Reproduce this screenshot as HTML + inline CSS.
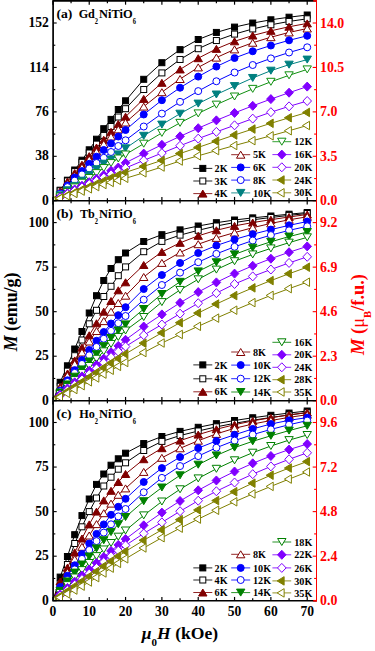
<!DOCTYPE html>
<html><head><meta charset="utf-8"><style>
html,body{margin:0;padding:0;background:#fff;}
body{width:375px;height:651px;overflow:hidden;font-family:"Liberation Serif",serif;}
svg{display:block;}
</style></head><body>
<svg width="375" height="651" viewBox="0 0 375 651">
<defs><clipPath id="ca"><rect x="53" y="1" width="263" height="200"/></clipPath><clipPath id="cb"><rect x="53" y="201" width="263" height="200"/></clipPath><clipPath id="cc"><rect x="53" y="401" width="263" height="200"/></clipPath></defs>
<g clip-path="url(#ca)">
<polyline points="52.90,201.00 60.17,190.20 67.43,180.20 74.70,170.00 81.96,160.20 89.23,149.80 96.50,139.20 103.76,128.70 111.03,119.40 118.29,109.50 125.56,100.80 143.72,79.30 161.89,62.70 180.06,49.64 198.22,39.50 216.39,32.43 234.55,27.10 252.72,23.05 270.88,19.80 289.05,17.20 307.21,15.00" fill="none" stroke="#000000" stroke-width="1"/>
<rect x="49.90" y="198.00" width="6.0" height="6.0" fill="#000000" stroke="#000000" stroke-width="1.0"/>
<rect x="57.17" y="187.20" width="6.0" height="6.0" fill="#000000" stroke="#000000" stroke-width="1.0"/>
<rect x="64.43" y="177.20" width="6.0" height="6.0" fill="#000000" stroke="#000000" stroke-width="1.0"/>
<rect x="71.70" y="167.00" width="6.0" height="6.0" fill="#000000" stroke="#000000" stroke-width="1.0"/>
<rect x="78.96" y="157.20" width="6.0" height="6.0" fill="#000000" stroke="#000000" stroke-width="1.0"/>
<rect x="86.23" y="146.80" width="6.0" height="6.0" fill="#000000" stroke="#000000" stroke-width="1.0"/>
<rect x="93.50" y="136.20" width="6.0" height="6.0" fill="#000000" stroke="#000000" stroke-width="1.0"/>
<rect x="100.76" y="125.70" width="6.0" height="6.0" fill="#000000" stroke="#000000" stroke-width="1.0"/>
<rect x="108.03" y="116.40" width="6.0" height="6.0" fill="#000000" stroke="#000000" stroke-width="1.0"/>
<rect x="115.29" y="106.50" width="6.0" height="6.0" fill="#000000" stroke="#000000" stroke-width="1.0"/>
<rect x="122.56" y="97.80" width="6.0" height="6.0" fill="#000000" stroke="#000000" stroke-width="1.0"/>
<rect x="140.72" y="76.30" width="6.0" height="6.0" fill="#000000" stroke="#000000" stroke-width="1.0"/>
<rect x="158.89" y="59.70" width="6.0" height="6.0" fill="#000000" stroke="#000000" stroke-width="1.0"/>
<rect x="177.06" y="46.64" width="6.0" height="6.0" fill="#000000" stroke="#000000" stroke-width="1.0"/>
<rect x="195.22" y="36.50" width="6.0" height="6.0" fill="#000000" stroke="#000000" stroke-width="1.0"/>
<rect x="213.39" y="29.43" width="6.0" height="6.0" fill="#000000" stroke="#000000" stroke-width="1.0"/>
<rect x="231.55" y="24.10" width="6.0" height="6.0" fill="#000000" stroke="#000000" stroke-width="1.0"/>
<rect x="249.72" y="20.05" width="6.0" height="6.0" fill="#000000" stroke="#000000" stroke-width="1.0"/>
<rect x="267.88" y="16.80" width="6.0" height="6.0" fill="#000000" stroke="#000000" stroke-width="1.0"/>
<rect x="286.05" y="14.20" width="6.0" height="6.0" fill="#000000" stroke="#000000" stroke-width="1.0"/>
<rect x="304.21" y="12.00" width="6.0" height="6.0" fill="#000000" stroke="#000000" stroke-width="1.0"/>
<polyline points="52.90,201.00 60.17,190.80 67.43,181.00 74.70,171.60 81.96,162.30 89.23,153.00 96.50,144.13 103.76,135.44 111.03,126.50 118.29,117.00 125.56,108.70 143.72,89.52 161.89,72.90 180.06,59.47 198.22,48.70 216.39,40.54 234.55,34.10 252.72,28.94 270.88,24.80 289.05,21.43 307.21,18.80" fill="none" stroke="#000000" stroke-width="1"/>
<rect x="49.90" y="198.00" width="6.0" height="6.0" fill="#ffffff" stroke="#000000" stroke-width="1.0"/>
<rect x="57.17" y="187.80" width="6.0" height="6.0" fill="#ffffff" stroke="#000000" stroke-width="1.0"/>
<rect x="64.43" y="178.00" width="6.0" height="6.0" fill="#ffffff" stroke="#000000" stroke-width="1.0"/>
<rect x="71.70" y="168.60" width="6.0" height="6.0" fill="#ffffff" stroke="#000000" stroke-width="1.0"/>
<rect x="78.96" y="159.30" width="6.0" height="6.0" fill="#ffffff" stroke="#000000" stroke-width="1.0"/>
<rect x="86.23" y="150.00" width="6.0" height="6.0" fill="#ffffff" stroke="#000000" stroke-width="1.0"/>
<rect x="93.50" y="141.13" width="6.0" height="6.0" fill="#ffffff" stroke="#000000" stroke-width="1.0"/>
<rect x="100.76" y="132.44" width="6.0" height="6.0" fill="#ffffff" stroke="#000000" stroke-width="1.0"/>
<rect x="108.03" y="123.50" width="6.0" height="6.0" fill="#ffffff" stroke="#000000" stroke-width="1.0"/>
<rect x="115.29" y="114.00" width="6.0" height="6.0" fill="#ffffff" stroke="#000000" stroke-width="1.0"/>
<rect x="122.56" y="105.70" width="6.0" height="6.0" fill="#ffffff" stroke="#000000" stroke-width="1.0"/>
<rect x="140.72" y="86.52" width="6.0" height="6.0" fill="#ffffff" stroke="#000000" stroke-width="1.0"/>
<rect x="158.89" y="69.90" width="6.0" height="6.0" fill="#ffffff" stroke="#000000" stroke-width="1.0"/>
<rect x="177.06" y="56.47" width="6.0" height="6.0" fill="#ffffff" stroke="#000000" stroke-width="1.0"/>
<rect x="195.22" y="45.70" width="6.0" height="6.0" fill="#ffffff" stroke="#000000" stroke-width="1.0"/>
<rect x="213.39" y="37.54" width="6.0" height="6.0" fill="#ffffff" stroke="#000000" stroke-width="1.0"/>
<rect x="231.55" y="31.10" width="6.0" height="6.0" fill="#ffffff" stroke="#000000" stroke-width="1.0"/>
<rect x="249.72" y="25.94" width="6.0" height="6.0" fill="#ffffff" stroke="#000000" stroke-width="1.0"/>
<rect x="267.88" y="21.80" width="6.0" height="6.0" fill="#ffffff" stroke="#000000" stroke-width="1.0"/>
<rect x="286.05" y="18.43" width="6.0" height="6.0" fill="#ffffff" stroke="#000000" stroke-width="1.0"/>
<rect x="304.21" y="15.80" width="6.0" height="6.0" fill="#ffffff" stroke="#000000" stroke-width="1.0"/>
<polyline points="52.90,201.00 60.17,191.20 67.43,181.60 74.70,173.10 81.96,164.70 89.23,156.10 96.50,147.50 103.76,139.80 111.03,131.80 118.29,124.00 125.56,116.70 143.72,98.88 161.89,82.80 180.06,69.44 198.22,58.20 216.39,48.86 234.55,41.30 252.72,35.52 270.88,30.80 289.05,26.75 307.21,23.40" fill="none" stroke="#800000" stroke-width="1"/>
<polygon points="52.90,197.50 57.10,204.50 48.70,204.50" fill="#800000" stroke="#800000" stroke-width="1.0" stroke-linejoin="miter"/>
<polygon points="60.17,187.70 64.37,194.70 55.97,194.70" fill="#800000" stroke="#800000" stroke-width="1.0" stroke-linejoin="miter"/>
<polygon points="67.43,178.10 71.63,185.10 63.23,185.10" fill="#800000" stroke="#800000" stroke-width="1.0" stroke-linejoin="miter"/>
<polygon points="74.70,169.60 78.90,176.60 70.50,176.60" fill="#800000" stroke="#800000" stroke-width="1.0" stroke-linejoin="miter"/>
<polygon points="81.96,161.20 86.16,168.20 77.76,168.20" fill="#800000" stroke="#800000" stroke-width="1.0" stroke-linejoin="miter"/>
<polygon points="89.23,152.60 93.43,159.60 85.03,159.60" fill="#800000" stroke="#800000" stroke-width="1.0" stroke-linejoin="miter"/>
<polygon points="96.50,144.00 100.70,151.00 92.30,151.00" fill="#800000" stroke="#800000" stroke-width="1.0" stroke-linejoin="miter"/>
<polygon points="103.76,136.30 107.96,143.30 99.56,143.30" fill="#800000" stroke="#800000" stroke-width="1.0" stroke-linejoin="miter"/>
<polygon points="111.03,128.30 115.23,135.30 106.83,135.30" fill="#800000" stroke="#800000" stroke-width="1.0" stroke-linejoin="miter"/>
<polygon points="118.29,120.50 122.49,127.50 114.09,127.50" fill="#800000" stroke="#800000" stroke-width="1.0" stroke-linejoin="miter"/>
<polygon points="125.56,113.20 129.76,120.20 121.36,120.20" fill="#800000" stroke="#800000" stroke-width="1.0" stroke-linejoin="miter"/>
<polygon points="143.72,95.38 147.92,102.38 139.53,102.38" fill="#800000" stroke="#800000" stroke-width="1.0" stroke-linejoin="miter"/>
<polygon points="161.89,79.30 166.09,86.30 157.69,86.30" fill="#800000" stroke="#800000" stroke-width="1.0" stroke-linejoin="miter"/>
<polygon points="180.06,65.94 184.25,72.94 175.86,72.94" fill="#800000" stroke="#800000" stroke-width="1.0" stroke-linejoin="miter"/>
<polygon points="198.22,54.70 202.42,61.70 194.02,61.70" fill="#800000" stroke="#800000" stroke-width="1.0" stroke-linejoin="miter"/>
<polygon points="216.39,45.36 220.59,52.36 212.19,52.36" fill="#800000" stroke="#800000" stroke-width="1.0" stroke-linejoin="miter"/>
<polygon points="234.55,37.80 238.75,44.80 230.35,44.80" fill="#800000" stroke="#800000" stroke-width="1.0" stroke-linejoin="miter"/>
<polygon points="252.72,32.02 256.92,39.02 248.52,39.02" fill="#800000" stroke="#800000" stroke-width="1.0" stroke-linejoin="miter"/>
<polygon points="270.88,27.30 275.08,34.30 266.68,34.30" fill="#800000" stroke="#800000" stroke-width="1.0" stroke-linejoin="miter"/>
<polygon points="289.05,23.25 293.25,30.25 284.85,30.25" fill="#800000" stroke="#800000" stroke-width="1.0" stroke-linejoin="miter"/>
<polygon points="307.21,19.90 311.41,26.90 303.01,26.90" fill="#800000" stroke="#800000" stroke-width="1.0" stroke-linejoin="miter"/>
<polyline points="52.90,201.00 60.17,192.34 67.43,183.85 74.70,175.54 81.96,167.42 89.23,159.50 96.50,151.71 103.76,144.04 111.03,136.57 118.29,129.36 125.56,122.50 143.72,106.59 161.89,92.20 180.06,79.00 198.22,67.40 216.39,57.61 234.55,49.40 252.72,42.75 270.88,37.20 289.05,32.45 307.21,28.50" fill="none" stroke="#800000" stroke-width="1"/>
<polygon points="52.90,197.50 57.10,204.50 48.70,204.50" fill="#ffffff" stroke="#800000" stroke-width="1.0" stroke-linejoin="miter"/>
<polygon points="60.17,188.84 64.37,195.84 55.97,195.84" fill="#ffffff" stroke="#800000" stroke-width="1.0" stroke-linejoin="miter"/>
<polygon points="67.43,180.35 71.63,187.35 63.23,187.35" fill="#ffffff" stroke="#800000" stroke-width="1.0" stroke-linejoin="miter"/>
<polygon points="74.70,172.04 78.90,179.04 70.50,179.04" fill="#ffffff" stroke="#800000" stroke-width="1.0" stroke-linejoin="miter"/>
<polygon points="81.96,163.92 86.16,170.92 77.76,170.92" fill="#ffffff" stroke="#800000" stroke-width="1.0" stroke-linejoin="miter"/>
<polygon points="89.23,156.00 93.43,163.00 85.03,163.00" fill="#ffffff" stroke="#800000" stroke-width="1.0" stroke-linejoin="miter"/>
<polygon points="96.50,148.21 100.70,155.21 92.30,155.21" fill="#ffffff" stroke="#800000" stroke-width="1.0" stroke-linejoin="miter"/>
<polygon points="103.76,140.54 107.96,147.54 99.56,147.54" fill="#ffffff" stroke="#800000" stroke-width="1.0" stroke-linejoin="miter"/>
<polygon points="111.03,133.07 115.23,140.07 106.83,140.07" fill="#ffffff" stroke="#800000" stroke-width="1.0" stroke-linejoin="miter"/>
<polygon points="118.29,125.86 122.49,132.86 114.09,132.86" fill="#ffffff" stroke="#800000" stroke-width="1.0" stroke-linejoin="miter"/>
<polygon points="125.56,119.00 129.76,126.00 121.36,126.00" fill="#ffffff" stroke="#800000" stroke-width="1.0" stroke-linejoin="miter"/>
<polygon points="143.72,103.09 147.92,110.09 139.53,110.09" fill="#ffffff" stroke="#800000" stroke-width="1.0" stroke-linejoin="miter"/>
<polygon points="161.89,88.70 166.09,95.70 157.69,95.70" fill="#ffffff" stroke="#800000" stroke-width="1.0" stroke-linejoin="miter"/>
<polygon points="180.06,75.50 184.25,82.50 175.86,82.50" fill="#ffffff" stroke="#800000" stroke-width="1.0" stroke-linejoin="miter"/>
<polygon points="198.22,63.90 202.42,70.90 194.02,70.90" fill="#ffffff" stroke="#800000" stroke-width="1.0" stroke-linejoin="miter"/>
<polygon points="216.39,54.11 220.59,61.11 212.19,61.11" fill="#ffffff" stroke="#800000" stroke-width="1.0" stroke-linejoin="miter"/>
<polygon points="234.55,45.90 238.75,52.90 230.35,52.90" fill="#ffffff" stroke="#800000" stroke-width="1.0" stroke-linejoin="miter"/>
<polygon points="252.72,39.25 256.92,46.25 248.52,46.25" fill="#ffffff" stroke="#800000" stroke-width="1.0" stroke-linejoin="miter"/>
<polygon points="270.88,33.70 275.08,40.70 266.68,40.70" fill="#ffffff" stroke="#800000" stroke-width="1.0" stroke-linejoin="miter"/>
<polygon points="289.05,28.95 293.25,35.95 284.85,35.95" fill="#ffffff" stroke="#800000" stroke-width="1.0" stroke-linejoin="miter"/>
<polygon points="307.21,25.00 311.41,32.00 303.01,32.00" fill="#ffffff" stroke="#800000" stroke-width="1.0" stroke-linejoin="miter"/>
<polyline points="52.90,201.00 60.17,193.50 67.43,185.50 74.70,177.50 81.96,171.10 89.23,163.80 96.50,156.70 103.76,150.00 111.03,143.40 118.29,136.50 125.56,130.00 143.72,114.47 161.89,100.20 180.06,87.71 198.22,76.60 216.39,66.57 234.55,58.00 252.72,51.25 270.88,45.50 289.05,40.32 307.21,35.80" fill="none" stroke="#0000ff" stroke-width="1"/>
<circle cx="52.90" cy="201.00" r="3.5" fill="#0000ff" stroke="#0000ff" stroke-width="1.0"/>
<circle cx="60.17" cy="193.50" r="3.5" fill="#0000ff" stroke="#0000ff" stroke-width="1.0"/>
<circle cx="67.43" cy="185.50" r="3.5" fill="#0000ff" stroke="#0000ff" stroke-width="1.0"/>
<circle cx="74.70" cy="177.50" r="3.5" fill="#0000ff" stroke="#0000ff" stroke-width="1.0"/>
<circle cx="81.96" cy="171.10" r="3.5" fill="#0000ff" stroke="#0000ff" stroke-width="1.0"/>
<circle cx="89.23" cy="163.80" r="3.5" fill="#0000ff" stroke="#0000ff" stroke-width="1.0"/>
<circle cx="96.50" cy="156.70" r="3.5" fill="#0000ff" stroke="#0000ff" stroke-width="1.0"/>
<circle cx="103.76" cy="150.00" r="3.5" fill="#0000ff" stroke="#0000ff" stroke-width="1.0"/>
<circle cx="111.03" cy="143.40" r="3.5" fill="#0000ff" stroke="#0000ff" stroke-width="1.0"/>
<circle cx="118.29" cy="136.50" r="3.5" fill="#0000ff" stroke="#0000ff" stroke-width="1.0"/>
<circle cx="125.56" cy="130.00" r="3.5" fill="#0000ff" stroke="#0000ff" stroke-width="1.0"/>
<circle cx="143.72" cy="114.47" r="3.5" fill="#0000ff" stroke="#0000ff" stroke-width="1.0"/>
<circle cx="161.89" cy="100.20" r="3.5" fill="#0000ff" stroke="#0000ff" stroke-width="1.0"/>
<circle cx="180.06" cy="87.71" r="3.5" fill="#0000ff" stroke="#0000ff" stroke-width="1.0"/>
<circle cx="198.22" cy="76.60" r="3.5" fill="#0000ff" stroke="#0000ff" stroke-width="1.0"/>
<circle cx="216.39" cy="66.57" r="3.5" fill="#0000ff" stroke="#0000ff" stroke-width="1.0"/>
<circle cx="234.55" cy="58.00" r="3.5" fill="#0000ff" stroke="#0000ff" stroke-width="1.0"/>
<circle cx="252.72" cy="51.25" r="3.5" fill="#0000ff" stroke="#0000ff" stroke-width="1.0"/>
<circle cx="270.88" cy="45.50" r="3.5" fill="#0000ff" stroke="#0000ff" stroke-width="1.0"/>
<circle cx="289.05" cy="40.32" r="3.5" fill="#0000ff" stroke="#0000ff" stroke-width="1.0"/>
<circle cx="307.21" cy="35.80" r="3.5" fill="#0000ff" stroke="#0000ff" stroke-width="1.0"/>
<polyline points="52.90,201.00 60.17,193.86 67.43,187.09 74.70,180.63 81.96,174.45 89.23,168.50 96.50,163.00 103.76,157.80 111.03,152.00 118.29,146.00 125.56,140.30 143.72,126.53 161.89,113.60 180.06,101.84 198.22,91.10 216.39,81.26 234.55,72.50 252.72,65.00 270.88,58.40 289.05,52.50 307.21,47.30" fill="none" stroke="#0000ff" stroke-width="1"/>
<circle cx="52.90" cy="201.00" r="3.5" fill="#ffffff" stroke="#0000ff" stroke-width="1.0"/>
<circle cx="60.17" cy="193.86" r="3.5" fill="#ffffff" stroke="#0000ff" stroke-width="1.0"/>
<circle cx="67.43" cy="187.09" r="3.5" fill="#ffffff" stroke="#0000ff" stroke-width="1.0"/>
<circle cx="74.70" cy="180.63" r="3.5" fill="#ffffff" stroke="#0000ff" stroke-width="1.0"/>
<circle cx="81.96" cy="174.45" r="3.5" fill="#ffffff" stroke="#0000ff" stroke-width="1.0"/>
<circle cx="89.23" cy="168.50" r="3.5" fill="#ffffff" stroke="#0000ff" stroke-width="1.0"/>
<circle cx="96.50" cy="163.00" r="3.5" fill="#ffffff" stroke="#0000ff" stroke-width="1.0"/>
<circle cx="103.76" cy="157.80" r="3.5" fill="#ffffff" stroke="#0000ff" stroke-width="1.0"/>
<circle cx="111.03" cy="152.00" r="3.5" fill="#ffffff" stroke="#0000ff" stroke-width="1.0"/>
<circle cx="118.29" cy="146.00" r="3.5" fill="#ffffff" stroke="#0000ff" stroke-width="1.0"/>
<circle cx="125.56" cy="140.30" r="3.5" fill="#ffffff" stroke="#0000ff" stroke-width="1.0"/>
<circle cx="143.72" cy="126.53" r="3.5" fill="#ffffff" stroke="#0000ff" stroke-width="1.0"/>
<circle cx="161.89" cy="113.60" r="3.5" fill="#ffffff" stroke="#0000ff" stroke-width="1.0"/>
<circle cx="180.06" cy="101.84" r="3.5" fill="#ffffff" stroke="#0000ff" stroke-width="1.0"/>
<circle cx="198.22" cy="91.10" r="3.5" fill="#ffffff" stroke="#0000ff" stroke-width="1.0"/>
<circle cx="216.39" cy="81.26" r="3.5" fill="#ffffff" stroke="#0000ff" stroke-width="1.0"/>
<circle cx="234.55" cy="72.50" r="3.5" fill="#ffffff" stroke="#0000ff" stroke-width="1.0"/>
<circle cx="252.72" cy="65.00" r="3.5" fill="#ffffff" stroke="#0000ff" stroke-width="1.0"/>
<circle cx="270.88" cy="58.40" r="3.5" fill="#ffffff" stroke="#0000ff" stroke-width="1.0"/>
<circle cx="289.05" cy="52.50" r="3.5" fill="#ffffff" stroke="#0000ff" stroke-width="1.0"/>
<circle cx="307.21" cy="47.30" r="3.5" fill="#ffffff" stroke="#0000ff" stroke-width="1.0"/>
<polyline points="52.90,201.00 60.17,195.35 67.43,190.30 74.70,185.90 81.96,180.70 89.23,175.20 96.50,169.24 103.76,163.70 111.03,159.50 118.29,154.40 125.56,148.30 143.72,135.80 161.89,124.60 180.06,113.70 198.22,103.60 216.39,94.51 234.55,86.10 252.72,77.96 270.88,70.70 289.05,64.66 307.21,59.60" fill="none" stroke="#008080" stroke-width="1"/>
<polygon points="52.90,204.50 57.10,197.50 48.70,197.50" fill="#008080" stroke="#008080" stroke-width="1.0" stroke-linejoin="miter"/>
<polygon points="60.17,198.85 64.37,191.85 55.97,191.85" fill="#008080" stroke="#008080" stroke-width="1.0" stroke-linejoin="miter"/>
<polygon points="67.43,193.80 71.63,186.80 63.23,186.80" fill="#008080" stroke="#008080" stroke-width="1.0" stroke-linejoin="miter"/>
<polygon points="74.70,189.40 78.90,182.40 70.50,182.40" fill="#008080" stroke="#008080" stroke-width="1.0" stroke-linejoin="miter"/>
<polygon points="81.96,184.20 86.16,177.20 77.76,177.20" fill="#008080" stroke="#008080" stroke-width="1.0" stroke-linejoin="miter"/>
<polygon points="89.23,178.70 93.43,171.70 85.03,171.70" fill="#008080" stroke="#008080" stroke-width="1.0" stroke-linejoin="miter"/>
<polygon points="96.50,172.74 100.70,165.74 92.30,165.74" fill="#008080" stroke="#008080" stroke-width="1.0" stroke-linejoin="miter"/>
<polygon points="103.76,167.20 107.96,160.20 99.56,160.20" fill="#008080" stroke="#008080" stroke-width="1.0" stroke-linejoin="miter"/>
<polygon points="111.03,163.00 115.23,156.00 106.83,156.00" fill="#008080" stroke="#008080" stroke-width="1.0" stroke-linejoin="miter"/>
<polygon points="118.29,157.90 122.49,150.90 114.09,150.90" fill="#008080" stroke="#008080" stroke-width="1.0" stroke-linejoin="miter"/>
<polygon points="125.56,151.80 129.76,144.80 121.36,144.80" fill="#008080" stroke="#008080" stroke-width="1.0" stroke-linejoin="miter"/>
<polygon points="143.72,139.30 147.92,132.30 139.53,132.30" fill="#008080" stroke="#008080" stroke-width="1.0" stroke-linejoin="miter"/>
<polygon points="161.89,128.10 166.09,121.10 157.69,121.10" fill="#008080" stroke="#008080" stroke-width="1.0" stroke-linejoin="miter"/>
<polygon points="180.06,117.20 184.25,110.20 175.86,110.20" fill="#008080" stroke="#008080" stroke-width="1.0" stroke-linejoin="miter"/>
<polygon points="198.22,107.10 202.42,100.10 194.02,100.10" fill="#008080" stroke="#008080" stroke-width="1.0" stroke-linejoin="miter"/>
<polygon points="216.39,98.01 220.59,91.01 212.19,91.01" fill="#008080" stroke="#008080" stroke-width="1.0" stroke-linejoin="miter"/>
<polygon points="234.55,89.60 238.75,82.60 230.35,82.60" fill="#008080" stroke="#008080" stroke-width="1.0" stroke-linejoin="miter"/>
<polygon points="252.72,81.46 256.92,74.46 248.52,74.46" fill="#008080" stroke="#008080" stroke-width="1.0" stroke-linejoin="miter"/>
<polygon points="270.88,74.20 275.08,67.20 266.68,67.20" fill="#008080" stroke="#008080" stroke-width="1.0" stroke-linejoin="miter"/>
<polygon points="289.05,68.16 293.25,61.16 284.85,61.16" fill="#008080" stroke="#008080" stroke-width="1.0" stroke-linejoin="miter"/>
<polygon points="307.21,63.10 311.41,56.10 303.01,56.10" fill="#008080" stroke="#008080" stroke-width="1.0" stroke-linejoin="miter"/>
<polyline points="52.90,201.00 60.17,196.52 67.43,191.98 74.70,187.37 81.96,182.71 89.23,178.00 96.50,173.10 103.76,168.04 111.03,163.08 118.29,158.50 125.56,154.50 143.72,143.69 161.89,132.90 180.06,122.85 198.22,113.40 216.39,104.65 234.55,96.50 252.72,88.87 270.88,81.80 289.05,75.32 307.21,69.40" fill="none" stroke="#109010" stroke-width="1"/>
<polygon points="52.90,204.50 57.10,197.50 48.70,197.50" fill="#ffffff" stroke="#109010" stroke-width="1.0" stroke-linejoin="miter"/>
<polygon points="60.17,200.02 64.37,193.02 55.97,193.02" fill="#ffffff" stroke="#109010" stroke-width="1.0" stroke-linejoin="miter"/>
<polygon points="67.43,195.48 71.63,188.48 63.23,188.48" fill="#ffffff" stroke="#109010" stroke-width="1.0" stroke-linejoin="miter"/>
<polygon points="74.70,190.87 78.90,183.87 70.50,183.87" fill="#ffffff" stroke="#109010" stroke-width="1.0" stroke-linejoin="miter"/>
<polygon points="81.96,186.21 86.16,179.21 77.76,179.21" fill="#ffffff" stroke="#109010" stroke-width="1.0" stroke-linejoin="miter"/>
<polygon points="89.23,181.50 93.43,174.50 85.03,174.50" fill="#ffffff" stroke="#109010" stroke-width="1.0" stroke-linejoin="miter"/>
<polygon points="96.50,176.60 100.70,169.60 92.30,169.60" fill="#ffffff" stroke="#109010" stroke-width="1.0" stroke-linejoin="miter"/>
<polygon points="103.76,171.54 107.96,164.54 99.56,164.54" fill="#ffffff" stroke="#109010" stroke-width="1.0" stroke-linejoin="miter"/>
<polygon points="111.03,166.58 115.23,159.58 106.83,159.58" fill="#ffffff" stroke="#109010" stroke-width="1.0" stroke-linejoin="miter"/>
<polygon points="118.29,162.00 122.49,155.00 114.09,155.00" fill="#ffffff" stroke="#109010" stroke-width="1.0" stroke-linejoin="miter"/>
<polygon points="125.56,158.00 129.76,151.00 121.36,151.00" fill="#ffffff" stroke="#109010" stroke-width="1.0" stroke-linejoin="miter"/>
<polygon points="143.72,147.19 147.92,140.19 139.53,140.19" fill="#ffffff" stroke="#109010" stroke-width="1.0" stroke-linejoin="miter"/>
<polygon points="161.89,136.40 166.09,129.40 157.69,129.40" fill="#ffffff" stroke="#109010" stroke-width="1.0" stroke-linejoin="miter"/>
<polygon points="180.06,126.35 184.25,119.35 175.86,119.35" fill="#ffffff" stroke="#109010" stroke-width="1.0" stroke-linejoin="miter"/>
<polygon points="198.22,116.90 202.42,109.90 194.02,109.90" fill="#ffffff" stroke="#109010" stroke-width="1.0" stroke-linejoin="miter"/>
<polygon points="216.39,108.15 220.59,101.15 212.19,101.15" fill="#ffffff" stroke="#109010" stroke-width="1.0" stroke-linejoin="miter"/>
<polygon points="234.55,100.00 238.75,93.00 230.35,93.00" fill="#ffffff" stroke="#109010" stroke-width="1.0" stroke-linejoin="miter"/>
<polygon points="252.72,92.37 256.92,85.37 248.52,85.37" fill="#ffffff" stroke="#109010" stroke-width="1.0" stroke-linejoin="miter"/>
<polygon points="270.88,85.30 275.08,78.30 266.68,78.30" fill="#ffffff" stroke="#109010" stroke-width="1.0" stroke-linejoin="miter"/>
<polygon points="289.05,78.82 293.25,71.82 284.85,71.82" fill="#ffffff" stroke="#109010" stroke-width="1.0" stroke-linejoin="miter"/>
<polygon points="307.21,72.90 311.41,65.90 303.01,65.90" fill="#ffffff" stroke="#109010" stroke-width="1.0" stroke-linejoin="miter"/>
<polyline points="52.90,201.00 60.17,197.07 67.43,193.21 74.70,189.42 81.96,185.70 89.23,182.16 96.50,178.69 103.76,175.00 111.03,170.80 118.29,167.50 125.56,162.80 143.72,153.60 161.89,144.80 180.06,136.35 198.22,128.20 216.39,120.37 234.55,112.90 252.72,105.83 270.88,99.10 289.05,92.69 307.21,86.60" fill="none" stroke="#8000ff" stroke-width="1"/>
<polygon points="52.90,196.50 57.20,201.00 52.90,205.50 48.60,201.00" fill="#8000ff" stroke="#8000ff" stroke-width="1.0" stroke-linejoin="miter"/>
<polygon points="60.17,192.57 64.47,197.07 60.17,201.57 55.87,197.07" fill="#8000ff" stroke="#8000ff" stroke-width="1.0" stroke-linejoin="miter"/>
<polygon points="67.43,188.71 71.73,193.21 67.43,197.71 63.13,193.21" fill="#8000ff" stroke="#8000ff" stroke-width="1.0" stroke-linejoin="miter"/>
<polygon points="74.70,184.92 79.00,189.42 74.70,193.92 70.40,189.42" fill="#8000ff" stroke="#8000ff" stroke-width="1.0" stroke-linejoin="miter"/>
<polygon points="81.96,181.20 86.26,185.70 81.96,190.20 77.66,185.70" fill="#8000ff" stroke="#8000ff" stroke-width="1.0" stroke-linejoin="miter"/>
<polygon points="89.23,177.66 93.53,182.16 89.23,186.66 84.93,182.16" fill="#8000ff" stroke="#8000ff" stroke-width="1.0" stroke-linejoin="miter"/>
<polygon points="96.50,174.19 100.80,178.69 96.50,183.19 92.20,178.69" fill="#8000ff" stroke="#8000ff" stroke-width="1.0" stroke-linejoin="miter"/>
<polygon points="103.76,170.50 108.06,175.00 103.76,179.50 99.46,175.00" fill="#8000ff" stroke="#8000ff" stroke-width="1.0" stroke-linejoin="miter"/>
<polygon points="111.03,166.30 115.33,170.80 111.03,175.30 106.73,170.80" fill="#8000ff" stroke="#8000ff" stroke-width="1.0" stroke-linejoin="miter"/>
<polygon points="118.29,163.00 122.59,167.50 118.29,172.00 113.99,167.50" fill="#8000ff" stroke="#8000ff" stroke-width="1.0" stroke-linejoin="miter"/>
<polygon points="125.56,158.30 129.86,162.80 125.56,167.30 121.26,162.80" fill="#8000ff" stroke="#8000ff" stroke-width="1.0" stroke-linejoin="miter"/>
<polygon points="143.72,149.10 148.03,153.60 143.72,158.10 139.42,153.60" fill="#8000ff" stroke="#8000ff" stroke-width="1.0" stroke-linejoin="miter"/>
<polygon points="161.89,140.30 166.19,144.80 161.89,149.30 157.59,144.80" fill="#8000ff" stroke="#8000ff" stroke-width="1.0" stroke-linejoin="miter"/>
<polygon points="180.06,131.85 184.36,136.35 180.06,140.85 175.75,136.35" fill="#8000ff" stroke="#8000ff" stroke-width="1.0" stroke-linejoin="miter"/>
<polygon points="198.22,123.70 202.52,128.20 198.22,132.70 193.92,128.20" fill="#8000ff" stroke="#8000ff" stroke-width="1.0" stroke-linejoin="miter"/>
<polygon points="216.39,115.87 220.69,120.37 216.39,124.87 212.09,120.37" fill="#8000ff" stroke="#8000ff" stroke-width="1.0" stroke-linejoin="miter"/>
<polygon points="234.55,108.40 238.85,112.90 234.55,117.40 230.25,112.90" fill="#8000ff" stroke="#8000ff" stroke-width="1.0" stroke-linejoin="miter"/>
<polygon points="252.72,101.33 257.01,105.83 252.72,110.33 248.41,105.83" fill="#8000ff" stroke="#8000ff" stroke-width="1.0" stroke-linejoin="miter"/>
<polygon points="270.88,94.60 275.18,99.10 270.88,103.60 266.58,99.10" fill="#8000ff" stroke="#8000ff" stroke-width="1.0" stroke-linejoin="miter"/>
<polygon points="289.05,88.19 293.35,92.69 289.05,97.19 284.75,92.69" fill="#8000ff" stroke="#8000ff" stroke-width="1.0" stroke-linejoin="miter"/>
<polygon points="307.21,82.10 311.51,86.60 307.21,91.10 302.91,86.60" fill="#8000ff" stroke="#8000ff" stroke-width="1.0" stroke-linejoin="miter"/>
<polyline points="52.90,201.00 60.17,197.52 67.43,194.08 74.70,190.68 81.96,187.32 89.23,184.00 96.50,180.72 103.76,177.49 111.03,174.29 118.29,171.13 125.56,168.00 143.72,160.40 161.89,153.10 180.06,145.76 198.22,138.60 216.39,131.87 234.55,125.30 252.72,118.61 270.88,112.20 289.05,106.37 307.21,101.00" fill="none" stroke="#8000ff" stroke-width="1"/>
<polygon points="52.90,196.50 57.20,201.00 52.90,205.50 48.60,201.00" fill="#ffffff" stroke="#8000ff" stroke-width="1.0" stroke-linejoin="miter"/>
<polygon points="60.17,193.02 64.47,197.52 60.17,202.02 55.87,197.52" fill="#ffffff" stroke="#8000ff" stroke-width="1.0" stroke-linejoin="miter"/>
<polygon points="67.43,189.58 71.73,194.08 67.43,198.58 63.13,194.08" fill="#ffffff" stroke="#8000ff" stroke-width="1.0" stroke-linejoin="miter"/>
<polygon points="74.70,186.18 79.00,190.68 74.70,195.18 70.40,190.68" fill="#ffffff" stroke="#8000ff" stroke-width="1.0" stroke-linejoin="miter"/>
<polygon points="81.96,182.82 86.26,187.32 81.96,191.82 77.66,187.32" fill="#ffffff" stroke="#8000ff" stroke-width="1.0" stroke-linejoin="miter"/>
<polygon points="89.23,179.50 93.53,184.00 89.23,188.50 84.93,184.00" fill="#ffffff" stroke="#8000ff" stroke-width="1.0" stroke-linejoin="miter"/>
<polygon points="96.50,176.22 100.80,180.72 96.50,185.22 92.20,180.72" fill="#ffffff" stroke="#8000ff" stroke-width="1.0" stroke-linejoin="miter"/>
<polygon points="103.76,172.99 108.06,177.49 103.76,181.99 99.46,177.49" fill="#ffffff" stroke="#8000ff" stroke-width="1.0" stroke-linejoin="miter"/>
<polygon points="111.03,169.79 115.33,174.29 111.03,178.79 106.73,174.29" fill="#ffffff" stroke="#8000ff" stroke-width="1.0" stroke-linejoin="miter"/>
<polygon points="118.29,166.63 122.59,171.13 118.29,175.63 113.99,171.13" fill="#ffffff" stroke="#8000ff" stroke-width="1.0" stroke-linejoin="miter"/>
<polygon points="125.56,163.50 129.86,168.00 125.56,172.50 121.26,168.00" fill="#ffffff" stroke="#8000ff" stroke-width="1.0" stroke-linejoin="miter"/>
<polygon points="143.72,155.90 148.03,160.40 143.72,164.90 139.42,160.40" fill="#ffffff" stroke="#8000ff" stroke-width="1.0" stroke-linejoin="miter"/>
<polygon points="161.89,148.60 166.19,153.10 161.89,157.60 157.59,153.10" fill="#ffffff" stroke="#8000ff" stroke-width="1.0" stroke-linejoin="miter"/>
<polygon points="180.06,141.26 184.36,145.76 180.06,150.26 175.75,145.76" fill="#ffffff" stroke="#8000ff" stroke-width="1.0" stroke-linejoin="miter"/>
<polygon points="198.22,134.10 202.52,138.60 198.22,143.10 193.92,138.60" fill="#ffffff" stroke="#8000ff" stroke-width="1.0" stroke-linejoin="miter"/>
<polygon points="216.39,127.37 220.69,131.87 216.39,136.37 212.09,131.87" fill="#ffffff" stroke="#8000ff" stroke-width="1.0" stroke-linejoin="miter"/>
<polygon points="234.55,120.80 238.85,125.30 234.55,129.80 230.25,125.30" fill="#ffffff" stroke="#8000ff" stroke-width="1.0" stroke-linejoin="miter"/>
<polygon points="252.72,114.11 257.01,118.61 252.72,123.11 248.41,118.61" fill="#ffffff" stroke="#8000ff" stroke-width="1.0" stroke-linejoin="miter"/>
<polygon points="270.88,107.70 275.18,112.20 270.88,116.70 266.58,112.20" fill="#ffffff" stroke="#8000ff" stroke-width="1.0" stroke-linejoin="miter"/>
<polygon points="289.05,101.87 293.35,106.37 289.05,110.87 284.75,106.37" fill="#ffffff" stroke="#8000ff" stroke-width="1.0" stroke-linejoin="miter"/>
<polygon points="307.21,96.50 311.51,101.00 307.21,105.50 302.91,101.00" fill="#ffffff" stroke="#8000ff" stroke-width="1.0" stroke-linejoin="miter"/>
<polyline points="52.90,201.00 60.17,198.18 67.43,195.34 74.70,192.50 81.96,189.66 89.23,186.80 96.50,183.89 103.76,180.92 111.03,177.96 118.29,175.10 125.56,172.40 143.72,166.40 161.89,160.40 180.06,153.50 198.22,147.40 216.39,141.17 234.55,135.00 252.72,129.06 270.88,123.30 289.05,117.75 307.21,112.40" fill="none" stroke="#808000" stroke-width="1"/>
<polygon points="48.23,201.00 55.23,196.75 55.23,205.25" fill="#808000" stroke="#808000" stroke-width="1.0" stroke-linejoin="miter"/>
<polygon points="55.50,198.18 62.50,193.93 62.50,202.43" fill="#808000" stroke="#808000" stroke-width="1.0" stroke-linejoin="miter"/>
<polygon points="62.77,195.34 69.77,191.09 69.77,199.59" fill="#808000" stroke="#808000" stroke-width="1.0" stroke-linejoin="miter"/>
<polygon points="70.03,192.50 77.03,188.25 77.03,196.75" fill="#808000" stroke="#808000" stroke-width="1.0" stroke-linejoin="miter"/>
<polygon points="77.30,189.66 84.30,185.41 84.30,193.91" fill="#808000" stroke="#808000" stroke-width="1.0" stroke-linejoin="miter"/>
<polygon points="84.56,186.80 91.56,182.55 91.56,191.05" fill="#808000" stroke="#808000" stroke-width="1.0" stroke-linejoin="miter"/>
<polygon points="91.83,183.89 98.83,179.64 98.83,188.14" fill="#808000" stroke="#808000" stroke-width="1.0" stroke-linejoin="miter"/>
<polygon points="99.10,180.92 106.10,176.67 106.10,185.17" fill="#808000" stroke="#808000" stroke-width="1.0" stroke-linejoin="miter"/>
<polygon points="106.36,177.96 113.36,173.71 113.36,182.21" fill="#808000" stroke="#808000" stroke-width="1.0" stroke-linejoin="miter"/>
<polygon points="113.63,175.10 120.63,170.85 120.63,179.35" fill="#808000" stroke="#808000" stroke-width="1.0" stroke-linejoin="miter"/>
<polygon points="120.89,172.40 127.89,168.15 127.89,176.65" fill="#808000" stroke="#808000" stroke-width="1.0" stroke-linejoin="miter"/>
<polygon points="139.06,166.40 146.06,162.15 146.06,170.65" fill="#808000" stroke="#808000" stroke-width="1.0" stroke-linejoin="miter"/>
<polygon points="157.22,160.40 164.22,156.15 164.22,164.65" fill="#808000" stroke="#808000" stroke-width="1.0" stroke-linejoin="miter"/>
<polygon points="175.39,153.50 182.39,149.25 182.39,157.75" fill="#808000" stroke="#808000" stroke-width="1.0" stroke-linejoin="miter"/>
<polygon points="193.55,147.40 200.55,143.15 200.55,151.65" fill="#808000" stroke="#808000" stroke-width="1.0" stroke-linejoin="miter"/>
<polygon points="211.72,141.17 218.72,136.92 218.72,145.42" fill="#808000" stroke="#808000" stroke-width="1.0" stroke-linejoin="miter"/>
<polygon points="229.88,135.00 236.88,130.75 236.88,139.25" fill="#808000" stroke="#808000" stroke-width="1.0" stroke-linejoin="miter"/>
<polygon points="248.05,129.06 255.05,124.81 255.05,133.31" fill="#808000" stroke="#808000" stroke-width="1.0" stroke-linejoin="miter"/>
<polygon points="266.21,123.30 273.21,119.05 273.21,127.55" fill="#808000" stroke="#808000" stroke-width="1.0" stroke-linejoin="miter"/>
<polygon points="284.38,117.75 291.38,113.50 291.38,122.00" fill="#808000" stroke="#808000" stroke-width="1.0" stroke-linejoin="miter"/>
<polygon points="302.54,112.40 309.54,108.15 309.54,116.65" fill="#808000" stroke="#808000" stroke-width="1.0" stroke-linejoin="miter"/>
<polyline points="52.90,201.00 60.17,198.42 67.43,195.91 74.70,193.47 81.96,191.10 89.23,188.80 96.50,186.61 103.76,184.51 111.03,182.46 118.29,180.41 125.56,178.30 143.72,172.80 161.89,167.00 180.06,161.00 198.22,155.80 216.39,150.60 234.55,145.50 252.72,140.65 270.88,135.80 289.05,130.73 307.21,125.50" fill="none" stroke="#808000" stroke-width="1"/>
<polygon points="48.23,201.00 55.23,196.75 55.23,205.25" fill="#ffffff" stroke="#808000" stroke-width="1.0" stroke-linejoin="miter"/>
<polygon points="55.50,198.42 62.50,194.17 62.50,202.67" fill="#ffffff" stroke="#808000" stroke-width="1.0" stroke-linejoin="miter"/>
<polygon points="62.77,195.91 69.77,191.66 69.77,200.16" fill="#ffffff" stroke="#808000" stroke-width="1.0" stroke-linejoin="miter"/>
<polygon points="70.03,193.47 77.03,189.22 77.03,197.72" fill="#ffffff" stroke="#808000" stroke-width="1.0" stroke-linejoin="miter"/>
<polygon points="77.30,191.10 84.30,186.85 84.30,195.35" fill="#ffffff" stroke="#808000" stroke-width="1.0" stroke-linejoin="miter"/>
<polygon points="84.56,188.80 91.56,184.55 91.56,193.05" fill="#ffffff" stroke="#808000" stroke-width="1.0" stroke-linejoin="miter"/>
<polygon points="91.83,186.61 98.83,182.36 98.83,190.86" fill="#ffffff" stroke="#808000" stroke-width="1.0" stroke-linejoin="miter"/>
<polygon points="99.10,184.51 106.10,180.26 106.10,188.76" fill="#ffffff" stroke="#808000" stroke-width="1.0" stroke-linejoin="miter"/>
<polygon points="106.36,182.46 113.36,178.21 113.36,186.71" fill="#ffffff" stroke="#808000" stroke-width="1.0" stroke-linejoin="miter"/>
<polygon points="113.63,180.41 120.63,176.16 120.63,184.66" fill="#ffffff" stroke="#808000" stroke-width="1.0" stroke-linejoin="miter"/>
<polygon points="120.89,178.30 127.89,174.05 127.89,182.55" fill="#ffffff" stroke="#808000" stroke-width="1.0" stroke-linejoin="miter"/>
<polygon points="139.06,172.80 146.06,168.55 146.06,177.05" fill="#ffffff" stroke="#808000" stroke-width="1.0" stroke-linejoin="miter"/>
<polygon points="157.22,167.00 164.22,162.75 164.22,171.25" fill="#ffffff" stroke="#808000" stroke-width="1.0" stroke-linejoin="miter"/>
<polygon points="175.39,161.00 182.39,156.75 182.39,165.25" fill="#ffffff" stroke="#808000" stroke-width="1.0" stroke-linejoin="miter"/>
<polygon points="193.55,155.80 200.55,151.55 200.55,160.05" fill="#ffffff" stroke="#808000" stroke-width="1.0" stroke-linejoin="miter"/>
<polygon points="211.72,150.60 218.72,146.35 218.72,154.85" fill="#ffffff" stroke="#808000" stroke-width="1.0" stroke-linejoin="miter"/>
<polygon points="229.88,145.50 236.88,141.25 236.88,149.75" fill="#ffffff" stroke="#808000" stroke-width="1.0" stroke-linejoin="miter"/>
<polygon points="248.05,140.65 255.05,136.40 255.05,144.90" fill="#ffffff" stroke="#808000" stroke-width="1.0" stroke-linejoin="miter"/>
<polygon points="266.21,135.80 273.21,131.55 273.21,140.05" fill="#ffffff" stroke="#808000" stroke-width="1.0" stroke-linejoin="miter"/>
<polygon points="284.38,130.73 291.38,126.48 291.38,134.98" fill="#ffffff" stroke="#808000" stroke-width="1.0" stroke-linejoin="miter"/>
<polygon points="302.54,125.50 309.54,121.25 309.54,129.75" fill="#ffffff" stroke="#808000" stroke-width="1.0" stroke-linejoin="miter"/>
</g>
<g clip-path="url(#cb)">
<polyline points="52.90,401.00 60.17,382.30 67.43,365.80 74.70,349.00 81.96,331.50 89.23,313.00 96.50,295.70 103.76,280.50 111.03,268.50 118.29,259.70 125.56,253.00 143.72,241.50 161.89,234.70 180.06,229.88 198.22,226.00 216.39,222.71 234.55,220.00 252.72,217.87 270.88,216.00 289.05,214.19 307.21,212.50" fill="none" stroke="#000000" stroke-width="1"/>
<rect x="49.90" y="398.00" width="6.0" height="6.0" fill="#000000" stroke="#000000" stroke-width="1.0"/>
<rect x="57.17" y="379.30" width="6.0" height="6.0" fill="#000000" stroke="#000000" stroke-width="1.0"/>
<rect x="64.43" y="362.80" width="6.0" height="6.0" fill="#000000" stroke="#000000" stroke-width="1.0"/>
<rect x="71.70" y="346.00" width="6.0" height="6.0" fill="#000000" stroke="#000000" stroke-width="1.0"/>
<rect x="78.96" y="328.50" width="6.0" height="6.0" fill="#000000" stroke="#000000" stroke-width="1.0"/>
<rect x="86.23" y="310.00" width="6.0" height="6.0" fill="#000000" stroke="#000000" stroke-width="1.0"/>
<rect x="93.50" y="292.70" width="6.0" height="6.0" fill="#000000" stroke="#000000" stroke-width="1.0"/>
<rect x="100.76" y="277.50" width="6.0" height="6.0" fill="#000000" stroke="#000000" stroke-width="1.0"/>
<rect x="108.03" y="265.50" width="6.0" height="6.0" fill="#000000" stroke="#000000" stroke-width="1.0"/>
<rect x="115.29" y="256.70" width="6.0" height="6.0" fill="#000000" stroke="#000000" stroke-width="1.0"/>
<rect x="122.56" y="250.00" width="6.0" height="6.0" fill="#000000" stroke="#000000" stroke-width="1.0"/>
<rect x="140.72" y="238.50" width="6.0" height="6.0" fill="#000000" stroke="#000000" stroke-width="1.0"/>
<rect x="158.89" y="231.70" width="6.0" height="6.0" fill="#000000" stroke="#000000" stroke-width="1.0"/>
<rect x="177.06" y="226.88" width="6.0" height="6.0" fill="#000000" stroke="#000000" stroke-width="1.0"/>
<rect x="195.22" y="223.00" width="6.0" height="6.0" fill="#000000" stroke="#000000" stroke-width="1.0"/>
<rect x="213.39" y="219.71" width="6.0" height="6.0" fill="#000000" stroke="#000000" stroke-width="1.0"/>
<rect x="231.55" y="217.00" width="6.0" height="6.0" fill="#000000" stroke="#000000" stroke-width="1.0"/>
<rect x="249.72" y="214.87" width="6.0" height="6.0" fill="#000000" stroke="#000000" stroke-width="1.0"/>
<rect x="267.88" y="213.00" width="6.0" height="6.0" fill="#000000" stroke="#000000" stroke-width="1.0"/>
<rect x="286.05" y="211.19" width="6.0" height="6.0" fill="#000000" stroke="#000000" stroke-width="1.0"/>
<rect x="304.21" y="209.50" width="6.0" height="6.0" fill="#000000" stroke="#000000" stroke-width="1.0"/>
<polyline points="52.90,401.00 60.17,386.28 67.43,371.16 74.70,355.71 81.96,340.00 89.23,323.80 96.50,310.30 103.76,296.50 111.03,286.30 118.29,275.70 125.56,266.90 143.72,251.70 161.89,241.40 180.06,235.13 198.22,230.30 216.39,226.02 234.55,222.50 252.72,219.79 270.88,217.50 289.05,215.38 307.21,213.50" fill="none" stroke="#000000" stroke-width="1"/>
<rect x="49.90" y="398.00" width="6.0" height="6.0" fill="#ffffff" stroke="#000000" stroke-width="1.0"/>
<rect x="57.17" y="383.28" width="6.0" height="6.0" fill="#ffffff" stroke="#000000" stroke-width="1.0"/>
<rect x="64.43" y="368.16" width="6.0" height="6.0" fill="#ffffff" stroke="#000000" stroke-width="1.0"/>
<rect x="71.70" y="352.71" width="6.0" height="6.0" fill="#ffffff" stroke="#000000" stroke-width="1.0"/>
<rect x="78.96" y="337.00" width="6.0" height="6.0" fill="#ffffff" stroke="#000000" stroke-width="1.0"/>
<rect x="86.23" y="320.80" width="6.0" height="6.0" fill="#ffffff" stroke="#000000" stroke-width="1.0"/>
<rect x="93.50" y="307.30" width="6.0" height="6.0" fill="#ffffff" stroke="#000000" stroke-width="1.0"/>
<rect x="100.76" y="293.50" width="6.0" height="6.0" fill="#ffffff" stroke="#000000" stroke-width="1.0"/>
<rect x="108.03" y="283.30" width="6.0" height="6.0" fill="#ffffff" stroke="#000000" stroke-width="1.0"/>
<rect x="115.29" y="272.70" width="6.0" height="6.0" fill="#ffffff" stroke="#000000" stroke-width="1.0"/>
<rect x="122.56" y="263.90" width="6.0" height="6.0" fill="#ffffff" stroke="#000000" stroke-width="1.0"/>
<rect x="140.72" y="248.70" width="6.0" height="6.0" fill="#ffffff" stroke="#000000" stroke-width="1.0"/>
<rect x="158.89" y="238.40" width="6.0" height="6.0" fill="#ffffff" stroke="#000000" stroke-width="1.0"/>
<rect x="177.06" y="232.13" width="6.0" height="6.0" fill="#ffffff" stroke="#000000" stroke-width="1.0"/>
<rect x="195.22" y="227.30" width="6.0" height="6.0" fill="#ffffff" stroke="#000000" stroke-width="1.0"/>
<rect x="213.39" y="223.02" width="6.0" height="6.0" fill="#ffffff" stroke="#000000" stroke-width="1.0"/>
<rect x="231.55" y="219.50" width="6.0" height="6.0" fill="#ffffff" stroke="#000000" stroke-width="1.0"/>
<rect x="249.72" y="216.79" width="6.0" height="6.0" fill="#ffffff" stroke="#000000" stroke-width="1.0"/>
<rect x="267.88" y="214.50" width="6.0" height="6.0" fill="#ffffff" stroke="#000000" stroke-width="1.0"/>
<rect x="286.05" y="212.38" width="6.0" height="6.0" fill="#ffffff" stroke="#000000" stroke-width="1.0"/>
<rect x="304.21" y="210.50" width="6.0" height="6.0" fill="#ffffff" stroke="#000000" stroke-width="1.0"/>
<polyline points="52.90,401.00 60.17,387.06 67.43,373.55 74.70,360.43 81.96,347.60 89.23,335.30 96.50,323.27 103.76,311.70 111.03,301.00 118.29,290.30 125.56,282.30 143.72,265.00 161.89,251.90 180.06,242.82 198.22,235.80 216.39,230.27 234.55,225.90 252.72,222.55 270.88,219.70 289.05,216.98 307.21,214.50" fill="none" stroke="#800000" stroke-width="1"/>
<polygon points="52.90,397.50 57.10,404.50 48.70,404.50" fill="#800000" stroke="#800000" stroke-width="1.0" stroke-linejoin="miter"/>
<polygon points="60.17,383.56 64.37,390.56 55.97,390.56" fill="#800000" stroke="#800000" stroke-width="1.0" stroke-linejoin="miter"/>
<polygon points="67.43,370.05 71.63,377.05 63.23,377.05" fill="#800000" stroke="#800000" stroke-width="1.0" stroke-linejoin="miter"/>
<polygon points="74.70,356.93 78.90,363.93 70.50,363.93" fill="#800000" stroke="#800000" stroke-width="1.0" stroke-linejoin="miter"/>
<polygon points="81.96,344.10 86.16,351.10 77.76,351.10" fill="#800000" stroke="#800000" stroke-width="1.0" stroke-linejoin="miter"/>
<polygon points="89.23,331.80 93.43,338.80 85.03,338.80" fill="#800000" stroke="#800000" stroke-width="1.0" stroke-linejoin="miter"/>
<polygon points="96.50,319.77 100.70,326.77 92.30,326.77" fill="#800000" stroke="#800000" stroke-width="1.0" stroke-linejoin="miter"/>
<polygon points="103.76,308.20 107.96,315.20 99.56,315.20" fill="#800000" stroke="#800000" stroke-width="1.0" stroke-linejoin="miter"/>
<polygon points="111.03,297.50 115.23,304.50 106.83,304.50" fill="#800000" stroke="#800000" stroke-width="1.0" stroke-linejoin="miter"/>
<polygon points="118.29,286.80 122.49,293.80 114.09,293.80" fill="#800000" stroke="#800000" stroke-width="1.0" stroke-linejoin="miter"/>
<polygon points="125.56,278.80 129.76,285.80 121.36,285.80" fill="#800000" stroke="#800000" stroke-width="1.0" stroke-linejoin="miter"/>
<polygon points="143.72,261.50 147.92,268.50 139.53,268.50" fill="#800000" stroke="#800000" stroke-width="1.0" stroke-linejoin="miter"/>
<polygon points="161.89,248.40 166.09,255.40 157.69,255.40" fill="#800000" stroke="#800000" stroke-width="1.0" stroke-linejoin="miter"/>
<polygon points="180.06,239.32 184.25,246.32 175.86,246.32" fill="#800000" stroke="#800000" stroke-width="1.0" stroke-linejoin="miter"/>
<polygon points="198.22,232.30 202.42,239.30 194.02,239.30" fill="#800000" stroke="#800000" stroke-width="1.0" stroke-linejoin="miter"/>
<polygon points="216.39,226.77 220.59,233.77 212.19,233.77" fill="#800000" stroke="#800000" stroke-width="1.0" stroke-linejoin="miter"/>
<polygon points="234.55,222.40 238.75,229.40 230.35,229.40" fill="#800000" stroke="#800000" stroke-width="1.0" stroke-linejoin="miter"/>
<polygon points="252.72,219.05 256.92,226.05 248.52,226.05" fill="#800000" stroke="#800000" stroke-width="1.0" stroke-linejoin="miter"/>
<polygon points="270.88,216.20 275.08,223.20 266.68,223.20" fill="#800000" stroke="#800000" stroke-width="1.0" stroke-linejoin="miter"/>
<polygon points="289.05,213.48 293.25,220.48 284.85,220.48" fill="#800000" stroke="#800000" stroke-width="1.0" stroke-linejoin="miter"/>
<polygon points="307.21,211.00 311.41,218.00 303.01,218.00" fill="#800000" stroke="#800000" stroke-width="1.0" stroke-linejoin="miter"/>
<polyline points="52.90,401.00 60.17,388.13 67.43,375.76 74.70,363.88 81.96,352.47 89.23,341.50 96.50,331.04 103.76,321.12 111.03,311.70 118.29,303.00 125.56,295.70 143.72,277.00 161.89,262.90 180.06,252.46 198.22,244.20 216.39,237.89 234.55,232.60 252.72,227.68 270.88,223.40 289.05,219.80 307.21,216.80" fill="none" stroke="#800000" stroke-width="1"/>
<polygon points="52.90,397.50 57.10,404.50 48.70,404.50" fill="#ffffff" stroke="#800000" stroke-width="1.0" stroke-linejoin="miter"/>
<polygon points="60.17,384.63 64.37,391.63 55.97,391.63" fill="#ffffff" stroke="#800000" stroke-width="1.0" stroke-linejoin="miter"/>
<polygon points="67.43,372.26 71.63,379.26 63.23,379.26" fill="#ffffff" stroke="#800000" stroke-width="1.0" stroke-linejoin="miter"/>
<polygon points="74.70,360.38 78.90,367.38 70.50,367.38" fill="#ffffff" stroke="#800000" stroke-width="1.0" stroke-linejoin="miter"/>
<polygon points="81.96,348.97 86.16,355.97 77.76,355.97" fill="#ffffff" stroke="#800000" stroke-width="1.0" stroke-linejoin="miter"/>
<polygon points="89.23,338.00 93.43,345.00 85.03,345.00" fill="#ffffff" stroke="#800000" stroke-width="1.0" stroke-linejoin="miter"/>
<polygon points="96.50,327.54 100.70,334.54 92.30,334.54" fill="#ffffff" stroke="#800000" stroke-width="1.0" stroke-linejoin="miter"/>
<polygon points="103.76,317.62 107.96,324.62 99.56,324.62" fill="#ffffff" stroke="#800000" stroke-width="1.0" stroke-linejoin="miter"/>
<polygon points="111.03,308.20 115.23,315.20 106.83,315.20" fill="#ffffff" stroke="#800000" stroke-width="1.0" stroke-linejoin="miter"/>
<polygon points="118.29,299.50 122.49,306.50 114.09,306.50" fill="#ffffff" stroke="#800000" stroke-width="1.0" stroke-linejoin="miter"/>
<polygon points="125.56,292.20 129.76,299.20 121.36,299.20" fill="#ffffff" stroke="#800000" stroke-width="1.0" stroke-linejoin="miter"/>
<polygon points="143.72,273.50 147.92,280.50 139.53,280.50" fill="#ffffff" stroke="#800000" stroke-width="1.0" stroke-linejoin="miter"/>
<polygon points="161.89,259.40 166.09,266.40 157.69,266.40" fill="#ffffff" stroke="#800000" stroke-width="1.0" stroke-linejoin="miter"/>
<polygon points="180.06,248.96 184.25,255.96 175.86,255.96" fill="#ffffff" stroke="#800000" stroke-width="1.0" stroke-linejoin="miter"/>
<polygon points="198.22,240.70 202.42,247.70 194.02,247.70" fill="#ffffff" stroke="#800000" stroke-width="1.0" stroke-linejoin="miter"/>
<polygon points="216.39,234.39 220.59,241.39 212.19,241.39" fill="#ffffff" stroke="#800000" stroke-width="1.0" stroke-linejoin="miter"/>
<polygon points="234.55,229.10 238.75,236.10 230.35,236.10" fill="#ffffff" stroke="#800000" stroke-width="1.0" stroke-linejoin="miter"/>
<polygon points="252.72,224.18 256.92,231.18 248.52,231.18" fill="#ffffff" stroke="#800000" stroke-width="1.0" stroke-linejoin="miter"/>
<polygon points="270.88,219.90 275.08,226.90 266.68,226.90" fill="#ffffff" stroke="#800000" stroke-width="1.0" stroke-linejoin="miter"/>
<polygon points="289.05,216.30 293.25,223.30 284.85,223.30" fill="#ffffff" stroke="#800000" stroke-width="1.0" stroke-linejoin="miter"/>
<polygon points="307.21,213.30 311.41,220.30 303.01,220.30" fill="#ffffff" stroke="#800000" stroke-width="1.0" stroke-linejoin="miter"/>
<polyline points="52.90,401.00 60.17,390.61 67.43,380.32 74.70,370.13 81.96,360.00 89.23,350.00 96.50,340.80 103.76,332.02 111.03,323.52 118.29,315.20 125.56,307.20 143.72,289.00 161.89,275.00 180.06,262.98 198.22,253.00 216.39,245.52 234.55,239.40 252.72,234.18 270.88,229.60 289.05,225.35 307.21,221.50" fill="none" stroke="#0000ff" stroke-width="1"/>
<circle cx="52.90" cy="401.00" r="3.5" fill="#0000ff" stroke="#0000ff" stroke-width="1.0"/>
<circle cx="60.17" cy="390.61" r="3.5" fill="#0000ff" stroke="#0000ff" stroke-width="1.0"/>
<circle cx="67.43" cy="380.32" r="3.5" fill="#0000ff" stroke="#0000ff" stroke-width="1.0"/>
<circle cx="74.70" cy="370.13" r="3.5" fill="#0000ff" stroke="#0000ff" stroke-width="1.0"/>
<circle cx="81.96" cy="360.00" r="3.5" fill="#0000ff" stroke="#0000ff" stroke-width="1.0"/>
<circle cx="89.23" cy="350.00" r="3.5" fill="#0000ff" stroke="#0000ff" stroke-width="1.0"/>
<circle cx="96.50" cy="340.80" r="3.5" fill="#0000ff" stroke="#0000ff" stroke-width="1.0"/>
<circle cx="103.76" cy="332.02" r="3.5" fill="#0000ff" stroke="#0000ff" stroke-width="1.0"/>
<circle cx="111.03" cy="323.52" r="3.5" fill="#0000ff" stroke="#0000ff" stroke-width="1.0"/>
<circle cx="118.29" cy="315.20" r="3.5" fill="#0000ff" stroke="#0000ff" stroke-width="1.0"/>
<circle cx="125.56" cy="307.20" r="3.5" fill="#0000ff" stroke="#0000ff" stroke-width="1.0"/>
<circle cx="143.72" cy="289.00" r="3.5" fill="#0000ff" stroke="#0000ff" stroke-width="1.0"/>
<circle cx="161.89" cy="275.00" r="3.5" fill="#0000ff" stroke="#0000ff" stroke-width="1.0"/>
<circle cx="180.06" cy="262.98" r="3.5" fill="#0000ff" stroke="#0000ff" stroke-width="1.0"/>
<circle cx="198.22" cy="253.00" r="3.5" fill="#0000ff" stroke="#0000ff" stroke-width="1.0"/>
<circle cx="216.39" cy="245.52" r="3.5" fill="#0000ff" stroke="#0000ff" stroke-width="1.0"/>
<circle cx="234.55" cy="239.40" r="3.5" fill="#0000ff" stroke="#0000ff" stroke-width="1.0"/>
<circle cx="252.72" cy="234.18" r="3.5" fill="#0000ff" stroke="#0000ff" stroke-width="1.0"/>
<circle cx="270.88" cy="229.60" r="3.5" fill="#0000ff" stroke="#0000ff" stroke-width="1.0"/>
<circle cx="289.05" cy="225.35" r="3.5" fill="#0000ff" stroke="#0000ff" stroke-width="1.0"/>
<circle cx="307.21" cy="221.50" r="3.5" fill="#0000ff" stroke="#0000ff" stroke-width="1.0"/>
<polyline points="52.90,401.00 60.17,391.37 67.43,381.98 74.70,372.84 81.96,363.95 89.23,355.30 96.50,346.90 103.76,338.74 111.03,330.84 118.29,323.20 125.56,316.00 143.72,299.70 161.89,285.00 180.06,272.64 198.22,262.20 216.39,253.86 234.55,246.80 252.72,240.54 270.88,235.10 289.05,230.36 307.21,226.30" fill="none" stroke="#0000ff" stroke-width="1"/>
<circle cx="52.90" cy="401.00" r="3.5" fill="#ffffff" stroke="#0000ff" stroke-width="1.0"/>
<circle cx="60.17" cy="391.37" r="3.5" fill="#ffffff" stroke="#0000ff" stroke-width="1.0"/>
<circle cx="67.43" cy="381.98" r="3.5" fill="#ffffff" stroke="#0000ff" stroke-width="1.0"/>
<circle cx="74.70" cy="372.84" r="3.5" fill="#ffffff" stroke="#0000ff" stroke-width="1.0"/>
<circle cx="81.96" cy="363.95" r="3.5" fill="#ffffff" stroke="#0000ff" stroke-width="1.0"/>
<circle cx="89.23" cy="355.30" r="3.5" fill="#ffffff" stroke="#0000ff" stroke-width="1.0"/>
<circle cx="96.50" cy="346.90" r="3.5" fill="#ffffff" stroke="#0000ff" stroke-width="1.0"/>
<circle cx="103.76" cy="338.74" r="3.5" fill="#ffffff" stroke="#0000ff" stroke-width="1.0"/>
<circle cx="111.03" cy="330.84" r="3.5" fill="#ffffff" stroke="#0000ff" stroke-width="1.0"/>
<circle cx="118.29" cy="323.20" r="3.5" fill="#ffffff" stroke="#0000ff" stroke-width="1.0"/>
<circle cx="125.56" cy="316.00" r="3.5" fill="#ffffff" stroke="#0000ff" stroke-width="1.0"/>
<circle cx="143.72" cy="299.70" r="3.5" fill="#ffffff" stroke="#0000ff" stroke-width="1.0"/>
<circle cx="161.89" cy="285.00" r="3.5" fill="#ffffff" stroke="#0000ff" stroke-width="1.0"/>
<circle cx="180.06" cy="272.64" r="3.5" fill="#ffffff" stroke="#0000ff" stroke-width="1.0"/>
<circle cx="198.22" cy="262.20" r="3.5" fill="#ffffff" stroke="#0000ff" stroke-width="1.0"/>
<circle cx="216.39" cy="253.86" r="3.5" fill="#ffffff" stroke="#0000ff" stroke-width="1.0"/>
<circle cx="234.55" cy="246.80" r="3.5" fill="#ffffff" stroke="#0000ff" stroke-width="1.0"/>
<circle cx="252.72" cy="240.54" r="3.5" fill="#ffffff" stroke="#0000ff" stroke-width="1.0"/>
<circle cx="270.88" cy="235.10" r="3.5" fill="#ffffff" stroke="#0000ff" stroke-width="1.0"/>
<circle cx="289.05" cy="230.36" r="3.5" fill="#ffffff" stroke="#0000ff" stroke-width="1.0"/>
<circle cx="307.21" cy="226.30" r="3.5" fill="#ffffff" stroke="#0000ff" stroke-width="1.0"/>
<polyline points="52.90,401.00 60.17,392.53 67.43,384.45 74.70,376.70 81.96,369.40 89.23,361.50 96.50,354.20 103.76,346.20 111.03,337.96 118.29,330.50 125.56,324.40 143.72,309.00 161.89,294.00 180.06,281.85 198.22,271.40 216.39,262.28 234.55,254.40 252.72,247.67 270.88,241.80 289.05,236.57 307.21,232.00" fill="none" stroke="#008000" stroke-width="1"/>
<polygon points="52.90,404.50 57.10,397.50 48.70,397.50" fill="#008000" stroke="#008000" stroke-width="1.0" stroke-linejoin="miter"/>
<polygon points="60.17,396.03 64.37,389.03 55.97,389.03" fill="#008000" stroke="#008000" stroke-width="1.0" stroke-linejoin="miter"/>
<polygon points="67.43,387.95 71.63,380.95 63.23,380.95" fill="#008000" stroke="#008000" stroke-width="1.0" stroke-linejoin="miter"/>
<polygon points="74.70,380.20 78.90,373.20 70.50,373.20" fill="#008000" stroke="#008000" stroke-width="1.0" stroke-linejoin="miter"/>
<polygon points="81.96,372.90 86.16,365.90 77.76,365.90" fill="#008000" stroke="#008000" stroke-width="1.0" stroke-linejoin="miter"/>
<polygon points="89.23,365.00 93.43,358.00 85.03,358.00" fill="#008000" stroke="#008000" stroke-width="1.0" stroke-linejoin="miter"/>
<polygon points="96.50,357.70 100.70,350.70 92.30,350.70" fill="#008000" stroke="#008000" stroke-width="1.0" stroke-linejoin="miter"/>
<polygon points="103.76,349.70 107.96,342.70 99.56,342.70" fill="#008000" stroke="#008000" stroke-width="1.0" stroke-linejoin="miter"/>
<polygon points="111.03,341.46 115.23,334.46 106.83,334.46" fill="#008000" stroke="#008000" stroke-width="1.0" stroke-linejoin="miter"/>
<polygon points="118.29,334.00 122.49,327.00 114.09,327.00" fill="#008000" stroke="#008000" stroke-width="1.0" stroke-linejoin="miter"/>
<polygon points="125.56,327.90 129.76,320.90 121.36,320.90" fill="#008000" stroke="#008000" stroke-width="1.0" stroke-linejoin="miter"/>
<polygon points="143.72,312.50 147.92,305.50 139.53,305.50" fill="#008000" stroke="#008000" stroke-width="1.0" stroke-linejoin="miter"/>
<polygon points="161.89,297.50 166.09,290.50 157.69,290.50" fill="#008000" stroke="#008000" stroke-width="1.0" stroke-linejoin="miter"/>
<polygon points="180.06,285.35 184.25,278.35 175.86,278.35" fill="#008000" stroke="#008000" stroke-width="1.0" stroke-linejoin="miter"/>
<polygon points="198.22,274.90 202.42,267.90 194.02,267.90" fill="#008000" stroke="#008000" stroke-width="1.0" stroke-linejoin="miter"/>
<polygon points="216.39,265.78 220.59,258.78 212.19,258.78" fill="#008000" stroke="#008000" stroke-width="1.0" stroke-linejoin="miter"/>
<polygon points="234.55,257.90 238.75,250.90 230.35,250.90" fill="#008000" stroke="#008000" stroke-width="1.0" stroke-linejoin="miter"/>
<polygon points="252.72,251.17 256.92,244.17 248.52,244.17" fill="#008000" stroke="#008000" stroke-width="1.0" stroke-linejoin="miter"/>
<polygon points="270.88,245.30 275.08,238.30 266.68,238.30" fill="#008000" stroke="#008000" stroke-width="1.0" stroke-linejoin="miter"/>
<polygon points="289.05,240.07 293.25,233.07 284.85,233.07" fill="#008000" stroke="#008000" stroke-width="1.0" stroke-linejoin="miter"/>
<polygon points="307.21,235.50 311.41,228.50 303.01,228.50" fill="#008000" stroke="#008000" stroke-width="1.0" stroke-linejoin="miter"/>
<polyline points="52.90,401.00 60.17,394.04 67.43,387.06 74.70,380.06 81.96,373.04 89.23,366.00 96.50,358.76 103.76,351.33 111.03,343.96 118.29,336.93 125.56,330.50 143.72,317.00 161.89,302.10 180.06,289.94 198.22,279.30 216.39,269.60 234.55,261.20 252.72,254.41 270.88,248.40 289.05,242.65 307.21,237.30" fill="none" stroke="#008000" stroke-width="1"/>
<polygon points="52.90,404.50 57.10,397.50 48.70,397.50" fill="#ffffff" stroke="#008000" stroke-width="1.0" stroke-linejoin="miter"/>
<polygon points="60.17,397.54 64.37,390.54 55.97,390.54" fill="#ffffff" stroke="#008000" stroke-width="1.0" stroke-linejoin="miter"/>
<polygon points="67.43,390.56 71.63,383.56 63.23,383.56" fill="#ffffff" stroke="#008000" stroke-width="1.0" stroke-linejoin="miter"/>
<polygon points="74.70,383.56 78.90,376.56 70.50,376.56" fill="#ffffff" stroke="#008000" stroke-width="1.0" stroke-linejoin="miter"/>
<polygon points="81.96,376.54 86.16,369.54 77.76,369.54" fill="#ffffff" stroke="#008000" stroke-width="1.0" stroke-linejoin="miter"/>
<polygon points="89.23,369.50 93.43,362.50 85.03,362.50" fill="#ffffff" stroke="#008000" stroke-width="1.0" stroke-linejoin="miter"/>
<polygon points="96.50,362.26 100.70,355.26 92.30,355.26" fill="#ffffff" stroke="#008000" stroke-width="1.0" stroke-linejoin="miter"/>
<polygon points="103.76,354.83 107.96,347.83 99.56,347.83" fill="#ffffff" stroke="#008000" stroke-width="1.0" stroke-linejoin="miter"/>
<polygon points="111.03,347.46 115.23,340.46 106.83,340.46" fill="#ffffff" stroke="#008000" stroke-width="1.0" stroke-linejoin="miter"/>
<polygon points="118.29,340.43 122.49,333.43 114.09,333.43" fill="#ffffff" stroke="#008000" stroke-width="1.0" stroke-linejoin="miter"/>
<polygon points="125.56,334.00 129.76,327.00 121.36,327.00" fill="#ffffff" stroke="#008000" stroke-width="1.0" stroke-linejoin="miter"/>
<polygon points="143.72,320.50 147.92,313.50 139.53,313.50" fill="#ffffff" stroke="#008000" stroke-width="1.0" stroke-linejoin="miter"/>
<polygon points="161.89,305.60 166.09,298.60 157.69,298.60" fill="#ffffff" stroke="#008000" stroke-width="1.0" stroke-linejoin="miter"/>
<polygon points="180.06,293.44 184.25,286.44 175.86,286.44" fill="#ffffff" stroke="#008000" stroke-width="1.0" stroke-linejoin="miter"/>
<polygon points="198.22,282.80 202.42,275.80 194.02,275.80" fill="#ffffff" stroke="#008000" stroke-width="1.0" stroke-linejoin="miter"/>
<polygon points="216.39,273.10 220.59,266.10 212.19,266.10" fill="#ffffff" stroke="#008000" stroke-width="1.0" stroke-linejoin="miter"/>
<polygon points="234.55,264.70 238.75,257.70 230.35,257.70" fill="#ffffff" stroke="#008000" stroke-width="1.0" stroke-linejoin="miter"/>
<polygon points="252.72,257.91 256.92,250.91 248.52,250.91" fill="#ffffff" stroke="#008000" stroke-width="1.0" stroke-linejoin="miter"/>
<polygon points="270.88,251.90 275.08,244.90 266.68,244.90" fill="#ffffff" stroke="#008000" stroke-width="1.0" stroke-linejoin="miter"/>
<polygon points="289.05,246.15 293.25,239.15 284.85,239.15" fill="#ffffff" stroke="#008000" stroke-width="1.0" stroke-linejoin="miter"/>
<polygon points="307.21,240.80 311.41,233.80 303.01,233.80" fill="#ffffff" stroke="#008000" stroke-width="1.0" stroke-linejoin="miter"/>
<polyline points="52.90,401.00 60.17,394.61 67.43,388.39 74.70,382.30 81.96,376.40 89.23,370.80 96.50,364.90 103.76,358.65 111.03,352.23 118.29,345.90 125.56,339.80 143.72,326.53 161.89,314.40 180.06,302.81 198.22,292.10 216.39,282.39 234.55,273.60 252.72,265.77 270.88,258.70 289.05,252.24 307.21,246.40" fill="none" stroke="#8000ff" stroke-width="1"/>
<polygon points="52.90,396.50 57.20,401.00 52.90,405.50 48.60,401.00" fill="#8000ff" stroke="#8000ff" stroke-width="1.0" stroke-linejoin="miter"/>
<polygon points="60.17,390.11 64.47,394.61 60.17,399.11 55.87,394.61" fill="#8000ff" stroke="#8000ff" stroke-width="1.0" stroke-linejoin="miter"/>
<polygon points="67.43,383.89 71.73,388.39 67.43,392.89 63.13,388.39" fill="#8000ff" stroke="#8000ff" stroke-width="1.0" stroke-linejoin="miter"/>
<polygon points="74.70,377.80 79.00,382.30 74.70,386.80 70.40,382.30" fill="#8000ff" stroke="#8000ff" stroke-width="1.0" stroke-linejoin="miter"/>
<polygon points="81.96,371.90 86.26,376.40 81.96,380.90 77.66,376.40" fill="#8000ff" stroke="#8000ff" stroke-width="1.0" stroke-linejoin="miter"/>
<polygon points="89.23,366.30 93.53,370.80 89.23,375.30 84.93,370.80" fill="#8000ff" stroke="#8000ff" stroke-width="1.0" stroke-linejoin="miter"/>
<polygon points="96.50,360.40 100.80,364.90 96.50,369.40 92.20,364.90" fill="#8000ff" stroke="#8000ff" stroke-width="1.0" stroke-linejoin="miter"/>
<polygon points="103.76,354.15 108.06,358.65 103.76,363.15 99.46,358.65" fill="#8000ff" stroke="#8000ff" stroke-width="1.0" stroke-linejoin="miter"/>
<polygon points="111.03,347.73 115.33,352.23 111.03,356.73 106.73,352.23" fill="#8000ff" stroke="#8000ff" stroke-width="1.0" stroke-linejoin="miter"/>
<polygon points="118.29,341.40 122.59,345.90 118.29,350.40 113.99,345.90" fill="#8000ff" stroke="#8000ff" stroke-width="1.0" stroke-linejoin="miter"/>
<polygon points="125.56,335.30 129.86,339.80 125.56,344.30 121.26,339.80" fill="#8000ff" stroke="#8000ff" stroke-width="1.0" stroke-linejoin="miter"/>
<polygon points="143.72,322.03 148.03,326.53 143.72,331.03 139.42,326.53" fill="#8000ff" stroke="#8000ff" stroke-width="1.0" stroke-linejoin="miter"/>
<polygon points="161.89,309.90 166.19,314.40 161.89,318.90 157.59,314.40" fill="#8000ff" stroke="#8000ff" stroke-width="1.0" stroke-linejoin="miter"/>
<polygon points="180.06,298.31 184.36,302.81 180.06,307.31 175.75,302.81" fill="#8000ff" stroke="#8000ff" stroke-width="1.0" stroke-linejoin="miter"/>
<polygon points="198.22,287.60 202.52,292.10 198.22,296.60 193.92,292.10" fill="#8000ff" stroke="#8000ff" stroke-width="1.0" stroke-linejoin="miter"/>
<polygon points="216.39,277.89 220.69,282.39 216.39,286.89 212.09,282.39" fill="#8000ff" stroke="#8000ff" stroke-width="1.0" stroke-linejoin="miter"/>
<polygon points="234.55,269.10 238.85,273.60 234.55,278.10 230.25,273.60" fill="#8000ff" stroke="#8000ff" stroke-width="1.0" stroke-linejoin="miter"/>
<polygon points="252.72,261.27 257.01,265.77 252.72,270.27 248.41,265.77" fill="#8000ff" stroke="#8000ff" stroke-width="1.0" stroke-linejoin="miter"/>
<polygon points="270.88,254.20 275.18,258.70 270.88,263.20 266.58,258.70" fill="#8000ff" stroke="#8000ff" stroke-width="1.0" stroke-linejoin="miter"/>
<polygon points="289.05,247.74 293.35,252.24 289.05,256.74 284.75,252.24" fill="#8000ff" stroke="#8000ff" stroke-width="1.0" stroke-linejoin="miter"/>
<polygon points="307.21,241.90 311.51,246.40 307.21,250.90 302.91,246.40" fill="#8000ff" stroke="#8000ff" stroke-width="1.0" stroke-linejoin="miter"/>
<polyline points="52.90,401.00 60.17,395.64 67.43,390.26 74.70,384.86 81.96,379.44 89.23,374.00 96.50,368.43 103.76,362.74 111.03,357.08 118.29,351.62 125.56,346.50 143.72,335.15 161.89,324.50 180.06,313.67 198.22,303.20 216.39,293.14 234.55,284.00 252.72,276.38 270.88,269.50 289.05,262.93 307.21,256.80" fill="none" stroke="#8000ff" stroke-width="1"/>
<polygon points="52.90,396.50 57.20,401.00 52.90,405.50 48.60,401.00" fill="#ffffff" stroke="#8000ff" stroke-width="1.0" stroke-linejoin="miter"/>
<polygon points="60.17,391.14 64.47,395.64 60.17,400.14 55.87,395.64" fill="#ffffff" stroke="#8000ff" stroke-width="1.0" stroke-linejoin="miter"/>
<polygon points="67.43,385.76 71.73,390.26 67.43,394.76 63.13,390.26" fill="#ffffff" stroke="#8000ff" stroke-width="1.0" stroke-linejoin="miter"/>
<polygon points="74.70,380.36 79.00,384.86 74.70,389.36 70.40,384.86" fill="#ffffff" stroke="#8000ff" stroke-width="1.0" stroke-linejoin="miter"/>
<polygon points="81.96,374.94 86.26,379.44 81.96,383.94 77.66,379.44" fill="#ffffff" stroke="#8000ff" stroke-width="1.0" stroke-linejoin="miter"/>
<polygon points="89.23,369.50 93.53,374.00 89.23,378.50 84.93,374.00" fill="#ffffff" stroke="#8000ff" stroke-width="1.0" stroke-linejoin="miter"/>
<polygon points="96.50,363.93 100.80,368.43 96.50,372.93 92.20,368.43" fill="#ffffff" stroke="#8000ff" stroke-width="1.0" stroke-linejoin="miter"/>
<polygon points="103.76,358.24 108.06,362.74 103.76,367.24 99.46,362.74" fill="#ffffff" stroke="#8000ff" stroke-width="1.0" stroke-linejoin="miter"/>
<polygon points="111.03,352.58 115.33,357.08 111.03,361.58 106.73,357.08" fill="#ffffff" stroke="#8000ff" stroke-width="1.0" stroke-linejoin="miter"/>
<polygon points="118.29,347.12 122.59,351.62 118.29,356.12 113.99,351.62" fill="#ffffff" stroke="#8000ff" stroke-width="1.0" stroke-linejoin="miter"/>
<polygon points="125.56,342.00 129.86,346.50 125.56,351.00 121.26,346.50" fill="#ffffff" stroke="#8000ff" stroke-width="1.0" stroke-linejoin="miter"/>
<polygon points="143.72,330.65 148.03,335.15 143.72,339.65 139.42,335.15" fill="#ffffff" stroke="#8000ff" stroke-width="1.0" stroke-linejoin="miter"/>
<polygon points="161.89,320.00 166.19,324.50 161.89,329.00 157.59,324.50" fill="#ffffff" stroke="#8000ff" stroke-width="1.0" stroke-linejoin="miter"/>
<polygon points="180.06,309.17 184.36,313.67 180.06,318.17 175.75,313.67" fill="#ffffff" stroke="#8000ff" stroke-width="1.0" stroke-linejoin="miter"/>
<polygon points="198.22,298.70 202.52,303.20 198.22,307.70 193.92,303.20" fill="#ffffff" stroke="#8000ff" stroke-width="1.0" stroke-linejoin="miter"/>
<polygon points="216.39,288.64 220.69,293.14 216.39,297.64 212.09,293.14" fill="#ffffff" stroke="#8000ff" stroke-width="1.0" stroke-linejoin="miter"/>
<polygon points="234.55,279.50 238.85,284.00 234.55,288.50 230.25,284.00" fill="#ffffff" stroke="#8000ff" stroke-width="1.0" stroke-linejoin="miter"/>
<polygon points="252.72,271.88 257.01,276.38 252.72,280.88 248.41,276.38" fill="#ffffff" stroke="#8000ff" stroke-width="1.0" stroke-linejoin="miter"/>
<polygon points="270.88,265.00 275.18,269.50 270.88,274.00 266.58,269.50" fill="#ffffff" stroke="#8000ff" stroke-width="1.0" stroke-linejoin="miter"/>
<polygon points="289.05,258.43 293.35,262.93 289.05,267.43 284.75,262.93" fill="#ffffff" stroke="#8000ff" stroke-width="1.0" stroke-linejoin="miter"/>
<polygon points="307.21,252.30 311.51,256.80 307.21,261.30 302.91,256.80" fill="#ffffff" stroke="#8000ff" stroke-width="1.0" stroke-linejoin="miter"/>
<polyline points="52.90,401.00 60.17,396.24 67.43,391.48 74.70,386.74 81.96,382.02 89.23,377.30 96.50,372.56 103.76,367.80 111.03,363.07 118.29,358.42 125.56,353.90 143.72,343.13 161.89,332.80 180.06,322.66 198.22,313.00 216.39,304.00 234.55,295.60 252.72,287.86 270.88,280.60 289.05,273.71 307.21,267.20" fill="none" stroke="#808000" stroke-width="1"/>
<polygon points="48.23,401.00 55.23,396.75 55.23,405.25" fill="#808000" stroke="#808000" stroke-width="1.0" stroke-linejoin="miter"/>
<polygon points="55.50,396.24 62.50,391.99 62.50,400.49" fill="#808000" stroke="#808000" stroke-width="1.0" stroke-linejoin="miter"/>
<polygon points="62.77,391.48 69.77,387.23 69.77,395.73" fill="#808000" stroke="#808000" stroke-width="1.0" stroke-linejoin="miter"/>
<polygon points="70.03,386.74 77.03,382.49 77.03,390.99" fill="#808000" stroke="#808000" stroke-width="1.0" stroke-linejoin="miter"/>
<polygon points="77.30,382.02 84.30,377.77 84.30,386.27" fill="#808000" stroke="#808000" stroke-width="1.0" stroke-linejoin="miter"/>
<polygon points="84.56,377.30 91.56,373.05 91.56,381.55" fill="#808000" stroke="#808000" stroke-width="1.0" stroke-linejoin="miter"/>
<polygon points="91.83,372.56 98.83,368.31 98.83,376.81" fill="#808000" stroke="#808000" stroke-width="1.0" stroke-linejoin="miter"/>
<polygon points="99.10,367.80 106.10,363.55 106.10,372.05" fill="#808000" stroke="#808000" stroke-width="1.0" stroke-linejoin="miter"/>
<polygon points="106.36,363.07 113.36,358.82 113.36,367.32" fill="#808000" stroke="#808000" stroke-width="1.0" stroke-linejoin="miter"/>
<polygon points="113.63,358.42 120.63,354.17 120.63,362.67" fill="#808000" stroke="#808000" stroke-width="1.0" stroke-linejoin="miter"/>
<polygon points="120.89,353.90 127.89,349.65 127.89,358.15" fill="#808000" stroke="#808000" stroke-width="1.0" stroke-linejoin="miter"/>
<polygon points="139.06,343.13 146.06,338.88 146.06,347.38" fill="#808000" stroke="#808000" stroke-width="1.0" stroke-linejoin="miter"/>
<polygon points="157.22,332.80 164.22,328.55 164.22,337.05" fill="#808000" stroke="#808000" stroke-width="1.0" stroke-linejoin="miter"/>
<polygon points="175.39,322.66 182.39,318.41 182.39,326.91" fill="#808000" stroke="#808000" stroke-width="1.0" stroke-linejoin="miter"/>
<polygon points="193.55,313.00 200.55,308.75 200.55,317.25" fill="#808000" stroke="#808000" stroke-width="1.0" stroke-linejoin="miter"/>
<polygon points="211.72,304.00 218.72,299.75 218.72,308.25" fill="#808000" stroke="#808000" stroke-width="1.0" stroke-linejoin="miter"/>
<polygon points="229.88,295.60 236.88,291.35 236.88,299.85" fill="#808000" stroke="#808000" stroke-width="1.0" stroke-linejoin="miter"/>
<polygon points="248.05,287.86 255.05,283.61 255.05,292.11" fill="#808000" stroke="#808000" stroke-width="1.0" stroke-linejoin="miter"/>
<polygon points="266.21,280.60 273.21,276.35 273.21,284.85" fill="#808000" stroke="#808000" stroke-width="1.0" stroke-linejoin="miter"/>
<polygon points="284.38,273.71 291.38,269.46 291.38,277.96" fill="#808000" stroke="#808000" stroke-width="1.0" stroke-linejoin="miter"/>
<polygon points="302.54,267.20 309.54,262.95 309.54,271.45" fill="#808000" stroke="#808000" stroke-width="1.0" stroke-linejoin="miter"/>
<polyline points="52.90,401.00 60.17,397.17 67.43,393.33 74.70,389.49 81.96,385.65 89.23,381.80 96.50,377.95 103.76,374.10 111.03,370.24 118.29,366.37 125.56,362.50 143.72,352.57 161.89,343.00 180.06,334.45 198.22,326.30 216.39,318.13 234.55,310.20 252.72,302.62 270.88,295.40 289.05,288.61 307.21,282.20" fill="none" stroke="#808000" stroke-width="1"/>
<polygon points="48.23,401.00 55.23,396.75 55.23,405.25" fill="#ffffff" stroke="#808000" stroke-width="1.0" stroke-linejoin="miter"/>
<polygon points="55.50,397.17 62.50,392.92 62.50,401.42" fill="#ffffff" stroke="#808000" stroke-width="1.0" stroke-linejoin="miter"/>
<polygon points="62.77,393.33 69.77,389.08 69.77,397.58" fill="#ffffff" stroke="#808000" stroke-width="1.0" stroke-linejoin="miter"/>
<polygon points="70.03,389.49 77.03,385.24 77.03,393.74" fill="#ffffff" stroke="#808000" stroke-width="1.0" stroke-linejoin="miter"/>
<polygon points="77.30,385.65 84.30,381.40 84.30,389.90" fill="#ffffff" stroke="#808000" stroke-width="1.0" stroke-linejoin="miter"/>
<polygon points="84.56,381.80 91.56,377.55 91.56,386.05" fill="#ffffff" stroke="#808000" stroke-width="1.0" stroke-linejoin="miter"/>
<polygon points="91.83,377.95 98.83,373.70 98.83,382.20" fill="#ffffff" stroke="#808000" stroke-width="1.0" stroke-linejoin="miter"/>
<polygon points="99.10,374.10 106.10,369.85 106.10,378.35" fill="#ffffff" stroke="#808000" stroke-width="1.0" stroke-linejoin="miter"/>
<polygon points="106.36,370.24 113.36,365.99 113.36,374.49" fill="#ffffff" stroke="#808000" stroke-width="1.0" stroke-linejoin="miter"/>
<polygon points="113.63,366.37 120.63,362.12 120.63,370.62" fill="#ffffff" stroke="#808000" stroke-width="1.0" stroke-linejoin="miter"/>
<polygon points="120.89,362.50 127.89,358.25 127.89,366.75" fill="#ffffff" stroke="#808000" stroke-width="1.0" stroke-linejoin="miter"/>
<polygon points="139.06,352.57 146.06,348.32 146.06,356.82" fill="#ffffff" stroke="#808000" stroke-width="1.0" stroke-linejoin="miter"/>
<polygon points="157.22,343.00 164.22,338.75 164.22,347.25" fill="#ffffff" stroke="#808000" stroke-width="1.0" stroke-linejoin="miter"/>
<polygon points="175.39,334.45 182.39,330.20 182.39,338.70" fill="#ffffff" stroke="#808000" stroke-width="1.0" stroke-linejoin="miter"/>
<polygon points="193.55,326.30 200.55,322.05 200.55,330.55" fill="#ffffff" stroke="#808000" stroke-width="1.0" stroke-linejoin="miter"/>
<polygon points="211.72,318.13 218.72,313.88 218.72,322.38" fill="#ffffff" stroke="#808000" stroke-width="1.0" stroke-linejoin="miter"/>
<polygon points="229.88,310.20 236.88,305.95 236.88,314.45" fill="#ffffff" stroke="#808000" stroke-width="1.0" stroke-linejoin="miter"/>
<polygon points="248.05,302.62 255.05,298.37 255.05,306.87" fill="#ffffff" stroke="#808000" stroke-width="1.0" stroke-linejoin="miter"/>
<polygon points="266.21,295.40 273.21,291.15 273.21,299.65" fill="#ffffff" stroke="#808000" stroke-width="1.0" stroke-linejoin="miter"/>
<polygon points="284.38,288.61 291.38,284.36 291.38,292.86" fill="#ffffff" stroke="#808000" stroke-width="1.0" stroke-linejoin="miter"/>
<polygon points="302.54,282.20 309.54,277.95 309.54,286.45" fill="#ffffff" stroke="#808000" stroke-width="1.0" stroke-linejoin="miter"/>
</g>
<g clip-path="url(#cc)">
<polyline points="52.90,601.00 60.17,577.10 67.43,556.50 74.70,534.70 81.96,515.60 89.23,499.00 96.50,484.40 103.76,474.00 111.03,465.20 118.29,458.80 125.56,453.20 143.72,443.56 161.89,436.50 180.06,431.39 198.22,427.30 216.39,423.66 234.55,420.50 252.72,417.75 270.88,415.30 289.05,413.04 307.21,411.00" fill="none" stroke="#000000" stroke-width="1"/>
<rect x="49.90" y="598.00" width="6.0" height="6.0" fill="#000000" stroke="#000000" stroke-width="1.0"/>
<rect x="57.17" y="574.10" width="6.0" height="6.0" fill="#000000" stroke="#000000" stroke-width="1.0"/>
<rect x="64.43" y="553.50" width="6.0" height="6.0" fill="#000000" stroke="#000000" stroke-width="1.0"/>
<rect x="71.70" y="531.70" width="6.0" height="6.0" fill="#000000" stroke="#000000" stroke-width="1.0"/>
<rect x="78.96" y="512.60" width="6.0" height="6.0" fill="#000000" stroke="#000000" stroke-width="1.0"/>
<rect x="86.23" y="496.00" width="6.0" height="6.0" fill="#000000" stroke="#000000" stroke-width="1.0"/>
<rect x="93.50" y="481.40" width="6.0" height="6.0" fill="#000000" stroke="#000000" stroke-width="1.0"/>
<rect x="100.76" y="471.00" width="6.0" height="6.0" fill="#000000" stroke="#000000" stroke-width="1.0"/>
<rect x="108.03" y="462.20" width="6.0" height="6.0" fill="#000000" stroke="#000000" stroke-width="1.0"/>
<rect x="115.29" y="455.80" width="6.0" height="6.0" fill="#000000" stroke="#000000" stroke-width="1.0"/>
<rect x="122.56" y="450.20" width="6.0" height="6.0" fill="#000000" stroke="#000000" stroke-width="1.0"/>
<rect x="140.72" y="440.56" width="6.0" height="6.0" fill="#000000" stroke="#000000" stroke-width="1.0"/>
<rect x="158.89" y="433.50" width="6.0" height="6.0" fill="#000000" stroke="#000000" stroke-width="1.0"/>
<rect x="177.06" y="428.39" width="6.0" height="6.0" fill="#000000" stroke="#000000" stroke-width="1.0"/>
<rect x="195.22" y="424.30" width="6.0" height="6.0" fill="#000000" stroke="#000000" stroke-width="1.0"/>
<rect x="213.39" y="420.66" width="6.0" height="6.0" fill="#000000" stroke="#000000" stroke-width="1.0"/>
<rect x="231.55" y="417.50" width="6.0" height="6.0" fill="#000000" stroke="#000000" stroke-width="1.0"/>
<rect x="249.72" y="414.75" width="6.0" height="6.0" fill="#000000" stroke="#000000" stroke-width="1.0"/>
<rect x="267.88" y="412.30" width="6.0" height="6.0" fill="#000000" stroke="#000000" stroke-width="1.0"/>
<rect x="286.05" y="410.04" width="6.0" height="6.0" fill="#000000" stroke="#000000" stroke-width="1.0"/>
<rect x="304.21" y="408.00" width="6.0" height="6.0" fill="#000000" stroke="#000000" stroke-width="1.0"/>
<polyline points="52.90,601.00 60.17,583.57 67.43,564.50 74.70,543.50 81.96,526.80 89.23,511.60 96.50,498.00 103.76,486.00 111.03,477.20 118.29,469.20 125.56,462.80 143.72,450.50 161.89,441.40 180.06,435.56 198.22,431.00 216.39,426.87 234.55,423.30 252.72,420.23 270.88,417.50 289.05,414.98 307.21,412.70" fill="none" stroke="#000000" stroke-width="1"/>
<rect x="49.90" y="598.00" width="6.0" height="6.0" fill="#ffffff" stroke="#000000" stroke-width="1.0"/>
<rect x="57.17" y="580.57" width="6.0" height="6.0" fill="#ffffff" stroke="#000000" stroke-width="1.0"/>
<rect x="64.43" y="561.50" width="6.0" height="6.0" fill="#ffffff" stroke="#000000" stroke-width="1.0"/>
<rect x="71.70" y="540.50" width="6.0" height="6.0" fill="#ffffff" stroke="#000000" stroke-width="1.0"/>
<rect x="78.96" y="523.80" width="6.0" height="6.0" fill="#ffffff" stroke="#000000" stroke-width="1.0"/>
<rect x="86.23" y="508.60" width="6.0" height="6.0" fill="#ffffff" stroke="#000000" stroke-width="1.0"/>
<rect x="93.50" y="495.00" width="6.0" height="6.0" fill="#ffffff" stroke="#000000" stroke-width="1.0"/>
<rect x="100.76" y="483.00" width="6.0" height="6.0" fill="#ffffff" stroke="#000000" stroke-width="1.0"/>
<rect x="108.03" y="474.20" width="6.0" height="6.0" fill="#ffffff" stroke="#000000" stroke-width="1.0"/>
<rect x="115.29" y="466.20" width="6.0" height="6.0" fill="#ffffff" stroke="#000000" stroke-width="1.0"/>
<rect x="122.56" y="459.80" width="6.0" height="6.0" fill="#ffffff" stroke="#000000" stroke-width="1.0"/>
<rect x="140.72" y="447.50" width="6.0" height="6.0" fill="#ffffff" stroke="#000000" stroke-width="1.0"/>
<rect x="158.89" y="438.40" width="6.0" height="6.0" fill="#ffffff" stroke="#000000" stroke-width="1.0"/>
<rect x="177.06" y="432.56" width="6.0" height="6.0" fill="#ffffff" stroke="#000000" stroke-width="1.0"/>
<rect x="195.22" y="428.00" width="6.0" height="6.0" fill="#ffffff" stroke="#000000" stroke-width="1.0"/>
<rect x="213.39" y="423.87" width="6.0" height="6.0" fill="#ffffff" stroke="#000000" stroke-width="1.0"/>
<rect x="231.55" y="420.30" width="6.0" height="6.0" fill="#ffffff" stroke="#000000" stroke-width="1.0"/>
<rect x="249.72" y="417.23" width="6.0" height="6.0" fill="#ffffff" stroke="#000000" stroke-width="1.0"/>
<rect x="267.88" y="414.50" width="6.0" height="6.0" fill="#ffffff" stroke="#000000" stroke-width="1.0"/>
<rect x="286.05" y="411.98" width="6.0" height="6.0" fill="#ffffff" stroke="#000000" stroke-width="1.0"/>
<rect x="304.21" y="409.70" width="6.0" height="6.0" fill="#ffffff" stroke="#000000" stroke-width="1.0"/>
<polyline points="52.90,601.00 60.17,581.50 67.43,567.70 74.70,552.40 81.96,538.50 89.23,524.40 96.50,511.60 103.76,500.40 111.03,490.80 118.29,482.00 125.56,474.00 143.72,459.21 161.89,448.20 180.06,440.61 198.22,434.60 216.39,429.24 234.55,424.70 252.72,420.92 270.88,417.70 289.05,414.89 307.21,412.50" fill="none" stroke="#800000" stroke-width="1"/>
<polygon points="52.90,597.50 57.10,604.50 48.70,604.50" fill="#800000" stroke="#800000" stroke-width="1.0" stroke-linejoin="miter"/>
<polygon points="60.17,578.00 64.37,585.00 55.97,585.00" fill="#800000" stroke="#800000" stroke-width="1.0" stroke-linejoin="miter"/>
<polygon points="67.43,564.20 71.63,571.20 63.23,571.20" fill="#800000" stroke="#800000" stroke-width="1.0" stroke-linejoin="miter"/>
<polygon points="74.70,548.90 78.90,555.90 70.50,555.90" fill="#800000" stroke="#800000" stroke-width="1.0" stroke-linejoin="miter"/>
<polygon points="81.96,535.00 86.16,542.00 77.76,542.00" fill="#800000" stroke="#800000" stroke-width="1.0" stroke-linejoin="miter"/>
<polygon points="89.23,520.90 93.43,527.90 85.03,527.90" fill="#800000" stroke="#800000" stroke-width="1.0" stroke-linejoin="miter"/>
<polygon points="96.50,508.10 100.70,515.10 92.30,515.10" fill="#800000" stroke="#800000" stroke-width="1.0" stroke-linejoin="miter"/>
<polygon points="103.76,496.90 107.96,503.90 99.56,503.90" fill="#800000" stroke="#800000" stroke-width="1.0" stroke-linejoin="miter"/>
<polygon points="111.03,487.30 115.23,494.30 106.83,494.30" fill="#800000" stroke="#800000" stroke-width="1.0" stroke-linejoin="miter"/>
<polygon points="118.29,478.50 122.49,485.50 114.09,485.50" fill="#800000" stroke="#800000" stroke-width="1.0" stroke-linejoin="miter"/>
<polygon points="125.56,470.50 129.76,477.50 121.36,477.50" fill="#800000" stroke="#800000" stroke-width="1.0" stroke-linejoin="miter"/>
<polygon points="143.72,455.71 147.92,462.71 139.53,462.71" fill="#800000" stroke="#800000" stroke-width="1.0" stroke-linejoin="miter"/>
<polygon points="161.89,444.70 166.09,451.70 157.69,451.70" fill="#800000" stroke="#800000" stroke-width="1.0" stroke-linejoin="miter"/>
<polygon points="180.06,437.11 184.25,444.11 175.86,444.11" fill="#800000" stroke="#800000" stroke-width="1.0" stroke-linejoin="miter"/>
<polygon points="198.22,431.10 202.42,438.10 194.02,438.10" fill="#800000" stroke="#800000" stroke-width="1.0" stroke-linejoin="miter"/>
<polygon points="216.39,425.74 220.59,432.74 212.19,432.74" fill="#800000" stroke="#800000" stroke-width="1.0" stroke-linejoin="miter"/>
<polygon points="234.55,421.20 238.75,428.20 230.35,428.20" fill="#800000" stroke="#800000" stroke-width="1.0" stroke-linejoin="miter"/>
<polygon points="252.72,417.42 256.92,424.42 248.52,424.42" fill="#800000" stroke="#800000" stroke-width="1.0" stroke-linejoin="miter"/>
<polygon points="270.88,414.20 275.08,421.20 266.68,421.20" fill="#800000" stroke="#800000" stroke-width="1.0" stroke-linejoin="miter"/>
<polygon points="289.05,411.39 293.25,418.39 284.85,418.39" fill="#800000" stroke="#800000" stroke-width="1.0" stroke-linejoin="miter"/>
<polygon points="307.21,409.00 311.41,416.00 303.01,416.00" fill="#800000" stroke="#800000" stroke-width="1.0" stroke-linejoin="miter"/>
<polyline points="52.90,601.00 60.17,586.17 67.43,572.28 74.70,559.20 81.96,546.80 89.23,535.50 96.50,524.10 103.76,513.20 111.03,503.60 118.29,494.80 125.56,488.40 143.72,471.91 161.89,457.80 180.06,448.30 198.22,440.70 216.39,433.90 234.55,428.30 252.72,424.03 270.88,420.50 289.05,417.37 307.21,414.70" fill="none" stroke="#800000" stroke-width="1"/>
<polygon points="52.90,597.50 57.10,604.50 48.70,604.50" fill="#ffffff" stroke="#800000" stroke-width="1.0" stroke-linejoin="miter"/>
<polygon points="60.17,582.67 64.37,589.67 55.97,589.67" fill="#ffffff" stroke="#800000" stroke-width="1.0" stroke-linejoin="miter"/>
<polygon points="67.43,568.78 71.63,575.78 63.23,575.78" fill="#ffffff" stroke="#800000" stroke-width="1.0" stroke-linejoin="miter"/>
<polygon points="74.70,555.70 78.90,562.70 70.50,562.70" fill="#ffffff" stroke="#800000" stroke-width="1.0" stroke-linejoin="miter"/>
<polygon points="81.96,543.30 86.16,550.30 77.76,550.30" fill="#ffffff" stroke="#800000" stroke-width="1.0" stroke-linejoin="miter"/>
<polygon points="89.23,532.00 93.43,539.00 85.03,539.00" fill="#ffffff" stroke="#800000" stroke-width="1.0" stroke-linejoin="miter"/>
<polygon points="96.50,520.60 100.70,527.60 92.30,527.60" fill="#ffffff" stroke="#800000" stroke-width="1.0" stroke-linejoin="miter"/>
<polygon points="103.76,509.70 107.96,516.70 99.56,516.70" fill="#ffffff" stroke="#800000" stroke-width="1.0" stroke-linejoin="miter"/>
<polygon points="111.03,500.10 115.23,507.10 106.83,507.10" fill="#ffffff" stroke="#800000" stroke-width="1.0" stroke-linejoin="miter"/>
<polygon points="118.29,491.30 122.49,498.30 114.09,498.30" fill="#ffffff" stroke="#800000" stroke-width="1.0" stroke-linejoin="miter"/>
<polygon points="125.56,484.90 129.76,491.90 121.36,491.90" fill="#ffffff" stroke="#800000" stroke-width="1.0" stroke-linejoin="miter"/>
<polygon points="143.72,468.41 147.92,475.41 139.53,475.41" fill="#ffffff" stroke="#800000" stroke-width="1.0" stroke-linejoin="miter"/>
<polygon points="161.89,454.30 166.09,461.30 157.69,461.30" fill="#ffffff" stroke="#800000" stroke-width="1.0" stroke-linejoin="miter"/>
<polygon points="180.06,444.80 184.25,451.80 175.86,451.80" fill="#ffffff" stroke="#800000" stroke-width="1.0" stroke-linejoin="miter"/>
<polygon points="198.22,437.20 202.42,444.20 194.02,444.20" fill="#ffffff" stroke="#800000" stroke-width="1.0" stroke-linejoin="miter"/>
<polygon points="216.39,430.40 220.59,437.40 212.19,437.40" fill="#ffffff" stroke="#800000" stroke-width="1.0" stroke-linejoin="miter"/>
<polygon points="234.55,424.80 238.75,431.80 230.35,431.80" fill="#ffffff" stroke="#800000" stroke-width="1.0" stroke-linejoin="miter"/>
<polygon points="252.72,420.53 256.92,427.53 248.52,427.53" fill="#ffffff" stroke="#800000" stroke-width="1.0" stroke-linejoin="miter"/>
<polygon points="270.88,417.00 275.08,424.00 266.68,424.00" fill="#ffffff" stroke="#800000" stroke-width="1.0" stroke-linejoin="miter"/>
<polygon points="289.05,413.87 293.25,420.87 284.85,420.87" fill="#ffffff" stroke="#800000" stroke-width="1.0" stroke-linejoin="miter"/>
<polygon points="307.21,411.20 311.41,418.20 303.01,418.20" fill="#ffffff" stroke="#800000" stroke-width="1.0" stroke-linejoin="miter"/>
<polyline points="52.90,601.00 60.17,587.00 67.43,575.82 74.70,565.30 81.96,554.00 89.23,543.50 96.50,533.90 103.76,524.40 111.03,514.80 118.29,506.80 125.56,498.80 143.72,482.00 161.89,468.10 180.06,457.07 198.22,448.10 216.39,440.94 234.55,434.80 252.72,428.91 270.88,424.00 289.05,420.32 307.21,417.60" fill="none" stroke="#0000ff" stroke-width="1"/>
<circle cx="52.90" cy="601.00" r="3.5" fill="#0000ff" stroke="#0000ff" stroke-width="1.0"/>
<circle cx="60.17" cy="587.00" r="3.5" fill="#0000ff" stroke="#0000ff" stroke-width="1.0"/>
<circle cx="67.43" cy="575.82" r="3.5" fill="#0000ff" stroke="#0000ff" stroke-width="1.0"/>
<circle cx="74.70" cy="565.30" r="3.5" fill="#0000ff" stroke="#0000ff" stroke-width="1.0"/>
<circle cx="81.96" cy="554.00" r="3.5" fill="#0000ff" stroke="#0000ff" stroke-width="1.0"/>
<circle cx="89.23" cy="543.50" r="3.5" fill="#0000ff" stroke="#0000ff" stroke-width="1.0"/>
<circle cx="96.50" cy="533.90" r="3.5" fill="#0000ff" stroke="#0000ff" stroke-width="1.0"/>
<circle cx="103.76" cy="524.40" r="3.5" fill="#0000ff" stroke="#0000ff" stroke-width="1.0"/>
<circle cx="111.03" cy="514.80" r="3.5" fill="#0000ff" stroke="#0000ff" stroke-width="1.0"/>
<circle cx="118.29" cy="506.80" r="3.5" fill="#0000ff" stroke="#0000ff" stroke-width="1.0"/>
<circle cx="125.56" cy="498.80" r="3.5" fill="#0000ff" stroke="#0000ff" stroke-width="1.0"/>
<circle cx="143.72" cy="482.00" r="3.5" fill="#0000ff" stroke="#0000ff" stroke-width="1.0"/>
<circle cx="161.89" cy="468.10" r="3.5" fill="#0000ff" stroke="#0000ff" stroke-width="1.0"/>
<circle cx="180.06" cy="457.07" r="3.5" fill="#0000ff" stroke="#0000ff" stroke-width="1.0"/>
<circle cx="198.22" cy="448.10" r="3.5" fill="#0000ff" stroke="#0000ff" stroke-width="1.0"/>
<circle cx="216.39" cy="440.94" r="3.5" fill="#0000ff" stroke="#0000ff" stroke-width="1.0"/>
<circle cx="234.55" cy="434.80" r="3.5" fill="#0000ff" stroke="#0000ff" stroke-width="1.0"/>
<circle cx="252.72" cy="428.91" r="3.5" fill="#0000ff" stroke="#0000ff" stroke-width="1.0"/>
<circle cx="270.88" cy="424.00" r="3.5" fill="#0000ff" stroke="#0000ff" stroke-width="1.0"/>
<circle cx="289.05" cy="420.32" r="3.5" fill="#0000ff" stroke="#0000ff" stroke-width="1.0"/>
<circle cx="307.21" cy="417.60" r="3.5" fill="#0000ff" stroke="#0000ff" stroke-width="1.0"/>
<polyline points="52.90,601.00 60.17,590.45 67.43,579.92 74.70,569.40 81.96,558.90 89.23,550.00 96.50,541.10 103.76,532.61 111.03,524.31 118.29,516.38 125.56,509.00 143.72,492.25 161.89,477.90 180.06,466.06 198.22,456.10 216.39,447.71 234.55,440.60 252.72,434.61 270.88,429.40 289.05,424.72 307.21,420.60" fill="none" stroke="#0000ff" stroke-width="1"/>
<circle cx="52.90" cy="601.00" r="3.5" fill="#ffffff" stroke="#0000ff" stroke-width="1.0"/>
<circle cx="60.17" cy="590.45" r="3.5" fill="#ffffff" stroke="#0000ff" stroke-width="1.0"/>
<circle cx="67.43" cy="579.92" r="3.5" fill="#ffffff" stroke="#0000ff" stroke-width="1.0"/>
<circle cx="74.70" cy="569.40" r="3.5" fill="#ffffff" stroke="#0000ff" stroke-width="1.0"/>
<circle cx="81.96" cy="558.90" r="3.5" fill="#ffffff" stroke="#0000ff" stroke-width="1.0"/>
<circle cx="89.23" cy="550.00" r="3.5" fill="#ffffff" stroke="#0000ff" stroke-width="1.0"/>
<circle cx="96.50" cy="541.10" r="3.5" fill="#ffffff" stroke="#0000ff" stroke-width="1.0"/>
<circle cx="103.76" cy="532.61" r="3.5" fill="#ffffff" stroke="#0000ff" stroke-width="1.0"/>
<circle cx="111.03" cy="524.31" r="3.5" fill="#ffffff" stroke="#0000ff" stroke-width="1.0"/>
<circle cx="118.29" cy="516.38" r="3.5" fill="#ffffff" stroke="#0000ff" stroke-width="1.0"/>
<circle cx="125.56" cy="509.00" r="3.5" fill="#ffffff" stroke="#0000ff" stroke-width="1.0"/>
<circle cx="143.72" cy="492.25" r="3.5" fill="#ffffff" stroke="#0000ff" stroke-width="1.0"/>
<circle cx="161.89" cy="477.90" r="3.5" fill="#ffffff" stroke="#0000ff" stroke-width="1.0"/>
<circle cx="180.06" cy="466.06" r="3.5" fill="#ffffff" stroke="#0000ff" stroke-width="1.0"/>
<circle cx="198.22" cy="456.10" r="3.5" fill="#ffffff" stroke="#0000ff" stroke-width="1.0"/>
<circle cx="216.39" cy="447.71" r="3.5" fill="#ffffff" stroke="#0000ff" stroke-width="1.0"/>
<circle cx="234.55" cy="440.60" r="3.5" fill="#ffffff" stroke="#0000ff" stroke-width="1.0"/>
<circle cx="252.72" cy="434.61" r="3.5" fill="#ffffff" stroke="#0000ff" stroke-width="1.0"/>
<circle cx="270.88" cy="429.40" r="3.5" fill="#ffffff" stroke="#0000ff" stroke-width="1.0"/>
<circle cx="289.05" cy="424.72" r="3.5" fill="#ffffff" stroke="#0000ff" stroke-width="1.0"/>
<circle cx="307.21" cy="420.60" r="3.5" fill="#ffffff" stroke="#0000ff" stroke-width="1.0"/>
<polyline points="52.90,601.00 60.17,590.89 67.43,581.46 74.70,572.60 81.96,564.50 89.23,556.50 96.50,548.40 103.76,540.26 111.03,532.09 118.29,524.22 125.56,517.00 143.72,501.23 161.89,487.50 180.06,475.33 198.22,464.70 216.39,455.45 234.55,447.60 252.72,441.31 270.88,435.80 289.05,430.58 307.21,425.80" fill="none" stroke="#008000" stroke-width="1"/>
<polygon points="52.90,604.50 57.10,597.50 48.70,597.50" fill="#008000" stroke="#008000" stroke-width="1.0" stroke-linejoin="miter"/>
<polygon points="60.17,594.39 64.37,587.39 55.97,587.39" fill="#008000" stroke="#008000" stroke-width="1.0" stroke-linejoin="miter"/>
<polygon points="67.43,584.96 71.63,577.96 63.23,577.96" fill="#008000" stroke="#008000" stroke-width="1.0" stroke-linejoin="miter"/>
<polygon points="74.70,576.10 78.90,569.10 70.50,569.10" fill="#008000" stroke="#008000" stroke-width="1.0" stroke-linejoin="miter"/>
<polygon points="81.96,568.00 86.16,561.00 77.76,561.00" fill="#008000" stroke="#008000" stroke-width="1.0" stroke-linejoin="miter"/>
<polygon points="89.23,560.00 93.43,553.00 85.03,553.00" fill="#008000" stroke="#008000" stroke-width="1.0" stroke-linejoin="miter"/>
<polygon points="96.50,551.90 100.70,544.90 92.30,544.90" fill="#008000" stroke="#008000" stroke-width="1.0" stroke-linejoin="miter"/>
<polygon points="103.76,543.76 107.96,536.76 99.56,536.76" fill="#008000" stroke="#008000" stroke-width="1.0" stroke-linejoin="miter"/>
<polygon points="111.03,535.59 115.23,528.59 106.83,528.59" fill="#008000" stroke="#008000" stroke-width="1.0" stroke-linejoin="miter"/>
<polygon points="118.29,527.72 122.49,520.72 114.09,520.72" fill="#008000" stroke="#008000" stroke-width="1.0" stroke-linejoin="miter"/>
<polygon points="125.56,520.50 129.76,513.50 121.36,513.50" fill="#008000" stroke="#008000" stroke-width="1.0" stroke-linejoin="miter"/>
<polygon points="143.72,504.73 147.92,497.73 139.53,497.73" fill="#008000" stroke="#008000" stroke-width="1.0" stroke-linejoin="miter"/>
<polygon points="161.89,491.00 166.09,484.00 157.69,484.00" fill="#008000" stroke="#008000" stroke-width="1.0" stroke-linejoin="miter"/>
<polygon points="180.06,478.83 184.25,471.83 175.86,471.83" fill="#008000" stroke="#008000" stroke-width="1.0" stroke-linejoin="miter"/>
<polygon points="198.22,468.20 202.42,461.20 194.02,461.20" fill="#008000" stroke="#008000" stroke-width="1.0" stroke-linejoin="miter"/>
<polygon points="216.39,458.95 220.59,451.95 212.19,451.95" fill="#008000" stroke="#008000" stroke-width="1.0" stroke-linejoin="miter"/>
<polygon points="234.55,451.10 238.75,444.10 230.35,444.10" fill="#008000" stroke="#008000" stroke-width="1.0" stroke-linejoin="miter"/>
<polygon points="252.72,444.81 256.92,437.81 248.52,437.81" fill="#008000" stroke="#008000" stroke-width="1.0" stroke-linejoin="miter"/>
<polygon points="270.88,439.30 275.08,432.30 266.68,432.30" fill="#008000" stroke="#008000" stroke-width="1.0" stroke-linejoin="miter"/>
<polygon points="289.05,434.08 293.25,427.08 284.85,427.08" fill="#008000" stroke="#008000" stroke-width="1.0" stroke-linejoin="miter"/>
<polygon points="307.21,429.30 311.41,422.30 303.01,422.30" fill="#008000" stroke="#008000" stroke-width="1.0" stroke-linejoin="miter"/>
<polyline points="52.90,601.00 60.17,592.95 67.43,585.12 74.70,577.51 81.96,570.13 89.23,563.00 96.50,556.12 103.76,549.46 111.03,542.99 118.29,536.68 125.56,530.50 143.72,515.38 161.89,501.50 180.06,489.27 198.22,478.40 216.39,468.81 234.55,460.30 252.72,452.71 270.88,446.00 289.05,440.11 307.21,435.00" fill="none" stroke="#008000" stroke-width="1"/>
<polygon points="52.90,604.50 57.10,597.50 48.70,597.50" fill="#ffffff" stroke="#008000" stroke-width="1.0" stroke-linejoin="miter"/>
<polygon points="60.17,596.45 64.37,589.45 55.97,589.45" fill="#ffffff" stroke="#008000" stroke-width="1.0" stroke-linejoin="miter"/>
<polygon points="67.43,588.62 71.63,581.62 63.23,581.62" fill="#ffffff" stroke="#008000" stroke-width="1.0" stroke-linejoin="miter"/>
<polygon points="74.70,581.01 78.90,574.01 70.50,574.01" fill="#ffffff" stroke="#008000" stroke-width="1.0" stroke-linejoin="miter"/>
<polygon points="81.96,573.63 86.16,566.63 77.76,566.63" fill="#ffffff" stroke="#008000" stroke-width="1.0" stroke-linejoin="miter"/>
<polygon points="89.23,566.50 93.43,559.50 85.03,559.50" fill="#ffffff" stroke="#008000" stroke-width="1.0" stroke-linejoin="miter"/>
<polygon points="96.50,559.62 100.70,552.62 92.30,552.62" fill="#ffffff" stroke="#008000" stroke-width="1.0" stroke-linejoin="miter"/>
<polygon points="103.76,552.96 107.96,545.96 99.56,545.96" fill="#ffffff" stroke="#008000" stroke-width="1.0" stroke-linejoin="miter"/>
<polygon points="111.03,546.49 115.23,539.49 106.83,539.49" fill="#ffffff" stroke="#008000" stroke-width="1.0" stroke-linejoin="miter"/>
<polygon points="118.29,540.18 122.49,533.18 114.09,533.18" fill="#ffffff" stroke="#008000" stroke-width="1.0" stroke-linejoin="miter"/>
<polygon points="125.56,534.00 129.76,527.00 121.36,527.00" fill="#ffffff" stroke="#008000" stroke-width="1.0" stroke-linejoin="miter"/>
<polygon points="143.72,518.88 147.92,511.88 139.53,511.88" fill="#ffffff" stroke="#008000" stroke-width="1.0" stroke-linejoin="miter"/>
<polygon points="161.89,505.00 166.09,498.00 157.69,498.00" fill="#ffffff" stroke="#008000" stroke-width="1.0" stroke-linejoin="miter"/>
<polygon points="180.06,492.77 184.25,485.77 175.86,485.77" fill="#ffffff" stroke="#008000" stroke-width="1.0" stroke-linejoin="miter"/>
<polygon points="198.22,481.90 202.42,474.90 194.02,474.90" fill="#ffffff" stroke="#008000" stroke-width="1.0" stroke-linejoin="miter"/>
<polygon points="216.39,472.31 220.59,465.31 212.19,465.31" fill="#ffffff" stroke="#008000" stroke-width="1.0" stroke-linejoin="miter"/>
<polygon points="234.55,463.80 238.75,456.80 230.35,456.80" fill="#ffffff" stroke="#008000" stroke-width="1.0" stroke-linejoin="miter"/>
<polygon points="252.72,456.21 256.92,449.21 248.52,449.21" fill="#ffffff" stroke="#008000" stroke-width="1.0" stroke-linejoin="miter"/>
<polygon points="270.88,449.50 275.08,442.50 266.68,442.50" fill="#ffffff" stroke="#008000" stroke-width="1.0" stroke-linejoin="miter"/>
<polygon points="289.05,443.61 293.25,436.61 284.85,436.61" fill="#ffffff" stroke="#008000" stroke-width="1.0" stroke-linejoin="miter"/>
<polygon points="307.21,438.50 311.41,431.50 303.01,431.50" fill="#ffffff" stroke="#008000" stroke-width="1.0" stroke-linejoin="miter"/>
<polyline points="52.90,601.00 60.17,594.41 67.43,587.98 74.70,581.69 81.96,575.50 89.23,569.50 96.50,563.00 103.76,557.00 111.03,550.95 118.29,544.92 125.56,539.10 143.72,525.35 161.89,512.60 180.06,500.97 198.22,490.30 216.39,480.47 234.55,471.50 252.72,463.32 270.88,456.00 289.05,449.59 307.21,444.00" fill="none" stroke="#8000ff" stroke-width="1"/>
<polygon points="52.90,596.50 57.20,601.00 52.90,605.50 48.60,601.00" fill="#8000ff" stroke="#8000ff" stroke-width="1.0" stroke-linejoin="miter"/>
<polygon points="60.17,589.91 64.47,594.41 60.17,598.91 55.87,594.41" fill="#8000ff" stroke="#8000ff" stroke-width="1.0" stroke-linejoin="miter"/>
<polygon points="67.43,583.48 71.73,587.98 67.43,592.48 63.13,587.98" fill="#8000ff" stroke="#8000ff" stroke-width="1.0" stroke-linejoin="miter"/>
<polygon points="74.70,577.19 79.00,581.69 74.70,586.19 70.40,581.69" fill="#8000ff" stroke="#8000ff" stroke-width="1.0" stroke-linejoin="miter"/>
<polygon points="81.96,571.00 86.26,575.50 81.96,580.00 77.66,575.50" fill="#8000ff" stroke="#8000ff" stroke-width="1.0" stroke-linejoin="miter"/>
<polygon points="89.23,565.00 93.53,569.50 89.23,574.00 84.93,569.50" fill="#8000ff" stroke="#8000ff" stroke-width="1.0" stroke-linejoin="miter"/>
<polygon points="96.50,558.50 100.80,563.00 96.50,567.50 92.20,563.00" fill="#8000ff" stroke="#8000ff" stroke-width="1.0" stroke-linejoin="miter"/>
<polygon points="103.76,552.50 108.06,557.00 103.76,561.50 99.46,557.00" fill="#8000ff" stroke="#8000ff" stroke-width="1.0" stroke-linejoin="miter"/>
<polygon points="111.03,546.45 115.33,550.95 111.03,555.45 106.73,550.95" fill="#8000ff" stroke="#8000ff" stroke-width="1.0" stroke-linejoin="miter"/>
<polygon points="118.29,540.42 122.59,544.92 118.29,549.42 113.99,544.92" fill="#8000ff" stroke="#8000ff" stroke-width="1.0" stroke-linejoin="miter"/>
<polygon points="125.56,534.60 129.86,539.10 125.56,543.60 121.26,539.10" fill="#8000ff" stroke="#8000ff" stroke-width="1.0" stroke-linejoin="miter"/>
<polygon points="143.72,520.85 148.03,525.35 143.72,529.85 139.42,525.35" fill="#8000ff" stroke="#8000ff" stroke-width="1.0" stroke-linejoin="miter"/>
<polygon points="161.89,508.10 166.19,512.60 161.89,517.10 157.59,512.60" fill="#8000ff" stroke="#8000ff" stroke-width="1.0" stroke-linejoin="miter"/>
<polygon points="180.06,496.47 184.36,500.97 180.06,505.47 175.75,500.97" fill="#8000ff" stroke="#8000ff" stroke-width="1.0" stroke-linejoin="miter"/>
<polygon points="198.22,485.80 202.52,490.30 198.22,494.80 193.92,490.30" fill="#8000ff" stroke="#8000ff" stroke-width="1.0" stroke-linejoin="miter"/>
<polygon points="216.39,475.97 220.69,480.47 216.39,484.97 212.09,480.47" fill="#8000ff" stroke="#8000ff" stroke-width="1.0" stroke-linejoin="miter"/>
<polygon points="234.55,467.00 238.85,471.50 234.55,476.00 230.25,471.50" fill="#8000ff" stroke="#8000ff" stroke-width="1.0" stroke-linejoin="miter"/>
<polygon points="252.72,458.82 257.01,463.32 252.72,467.82 248.41,463.32" fill="#8000ff" stroke="#8000ff" stroke-width="1.0" stroke-linejoin="miter"/>
<polygon points="270.88,451.50 275.18,456.00 270.88,460.50 266.58,456.00" fill="#8000ff" stroke="#8000ff" stroke-width="1.0" stroke-linejoin="miter"/>
<polygon points="289.05,445.09 293.35,449.59 289.05,454.09 284.75,449.59" fill="#8000ff" stroke="#8000ff" stroke-width="1.0" stroke-linejoin="miter"/>
<polygon points="307.21,439.50 311.51,444.00 307.21,448.50 302.91,444.00" fill="#8000ff" stroke="#8000ff" stroke-width="1.0" stroke-linejoin="miter"/>
<polyline points="52.90,601.00 60.17,595.56 67.43,590.08 74.70,584.58 81.96,579.06 89.23,573.50 96.50,567.81 103.76,561.99 111.03,556.19 118.29,550.58 125.56,545.30 143.72,533.48 161.89,522.40 180.06,511.24 198.22,500.70 216.39,491.26 234.55,482.50 252.72,474.16 270.88,466.40 289.05,459.30 307.21,452.80" fill="none" stroke="#8000ff" stroke-width="1"/>
<polygon points="52.90,596.50 57.20,601.00 52.90,605.50 48.60,601.00" fill="#ffffff" stroke="#8000ff" stroke-width="1.0" stroke-linejoin="miter"/>
<polygon points="60.17,591.06 64.47,595.56 60.17,600.06 55.87,595.56" fill="#ffffff" stroke="#8000ff" stroke-width="1.0" stroke-linejoin="miter"/>
<polygon points="67.43,585.58 71.73,590.08 67.43,594.58 63.13,590.08" fill="#ffffff" stroke="#8000ff" stroke-width="1.0" stroke-linejoin="miter"/>
<polygon points="74.70,580.08 79.00,584.58 74.70,589.08 70.40,584.58" fill="#ffffff" stroke="#8000ff" stroke-width="1.0" stroke-linejoin="miter"/>
<polygon points="81.96,574.56 86.26,579.06 81.96,583.56 77.66,579.06" fill="#ffffff" stroke="#8000ff" stroke-width="1.0" stroke-linejoin="miter"/>
<polygon points="89.23,569.00 93.53,573.50 89.23,578.00 84.93,573.50" fill="#ffffff" stroke="#8000ff" stroke-width="1.0" stroke-linejoin="miter"/>
<polygon points="96.50,563.31 100.80,567.81 96.50,572.31 92.20,567.81" fill="#ffffff" stroke="#8000ff" stroke-width="1.0" stroke-linejoin="miter"/>
<polygon points="103.76,557.49 108.06,561.99 103.76,566.49 99.46,561.99" fill="#ffffff" stroke="#8000ff" stroke-width="1.0" stroke-linejoin="miter"/>
<polygon points="111.03,551.69 115.33,556.19 111.03,560.69 106.73,556.19" fill="#ffffff" stroke="#8000ff" stroke-width="1.0" stroke-linejoin="miter"/>
<polygon points="118.29,546.08 122.59,550.58 118.29,555.08 113.99,550.58" fill="#ffffff" stroke="#8000ff" stroke-width="1.0" stroke-linejoin="miter"/>
<polygon points="125.56,540.80 129.86,545.30 125.56,549.80 121.26,545.30" fill="#ffffff" stroke="#8000ff" stroke-width="1.0" stroke-linejoin="miter"/>
<polygon points="143.72,528.98 148.03,533.48 143.72,537.98 139.42,533.48" fill="#ffffff" stroke="#8000ff" stroke-width="1.0" stroke-linejoin="miter"/>
<polygon points="161.89,517.90 166.19,522.40 161.89,526.90 157.59,522.40" fill="#ffffff" stroke="#8000ff" stroke-width="1.0" stroke-linejoin="miter"/>
<polygon points="180.06,506.74 184.36,511.24 180.06,515.74 175.75,511.24" fill="#ffffff" stroke="#8000ff" stroke-width="1.0" stroke-linejoin="miter"/>
<polygon points="198.22,496.20 202.52,500.70 198.22,505.20 193.92,500.70" fill="#ffffff" stroke="#8000ff" stroke-width="1.0" stroke-linejoin="miter"/>
<polygon points="216.39,486.76 220.69,491.26 216.39,495.76 212.09,491.26" fill="#ffffff" stroke="#8000ff" stroke-width="1.0" stroke-linejoin="miter"/>
<polygon points="234.55,478.00 238.85,482.50 234.55,487.00 230.25,482.50" fill="#ffffff" stroke="#8000ff" stroke-width="1.0" stroke-linejoin="miter"/>
<polygon points="252.72,469.66 257.01,474.16 252.72,478.66 248.41,474.16" fill="#ffffff" stroke="#8000ff" stroke-width="1.0" stroke-linejoin="miter"/>
<polygon points="270.88,461.90 275.18,466.40 270.88,470.90 266.58,466.40" fill="#ffffff" stroke="#8000ff" stroke-width="1.0" stroke-linejoin="miter"/>
<polygon points="289.05,454.80 293.35,459.30 289.05,463.80 284.75,459.30" fill="#ffffff" stroke="#8000ff" stroke-width="1.0" stroke-linejoin="miter"/>
<polygon points="307.21,448.30 311.51,452.80 307.21,457.30 302.91,452.80" fill="#ffffff" stroke="#8000ff" stroke-width="1.0" stroke-linejoin="miter"/>
<polyline points="52.90,601.00 60.17,596.16 67.43,591.29 74.70,586.38 81.96,581.45 89.23,576.50 96.50,571.50 103.76,566.30 111.03,561.20 118.29,556.20 125.56,551.40 143.72,540.28 161.89,529.80 180.06,519.64 198.22,509.90 216.39,500.59 234.55,491.70 252.72,483.15 270.88,475.20 289.05,468.05 307.21,461.60" fill="none" stroke="#808000" stroke-width="1"/>
<polygon points="48.23,601.00 55.23,596.75 55.23,605.25" fill="#808000" stroke="#808000" stroke-width="1.0" stroke-linejoin="miter"/>
<polygon points="55.50,596.16 62.50,591.91 62.50,600.41" fill="#808000" stroke="#808000" stroke-width="1.0" stroke-linejoin="miter"/>
<polygon points="62.77,591.29 69.77,587.04 69.77,595.54" fill="#808000" stroke="#808000" stroke-width="1.0" stroke-linejoin="miter"/>
<polygon points="70.03,586.38 77.03,582.13 77.03,590.63" fill="#808000" stroke="#808000" stroke-width="1.0" stroke-linejoin="miter"/>
<polygon points="77.30,581.45 84.30,577.20 84.30,585.70" fill="#808000" stroke="#808000" stroke-width="1.0" stroke-linejoin="miter"/>
<polygon points="84.56,576.50 91.56,572.25 91.56,580.75" fill="#808000" stroke="#808000" stroke-width="1.0" stroke-linejoin="miter"/>
<polygon points="91.83,571.50 98.83,567.25 98.83,575.75" fill="#808000" stroke="#808000" stroke-width="1.0" stroke-linejoin="miter"/>
<polygon points="99.10,566.30 106.10,562.05 106.10,570.55" fill="#808000" stroke="#808000" stroke-width="1.0" stroke-linejoin="miter"/>
<polygon points="106.36,561.20 113.36,556.95 113.36,565.45" fill="#808000" stroke="#808000" stroke-width="1.0" stroke-linejoin="miter"/>
<polygon points="113.63,556.20 120.63,551.95 120.63,560.45" fill="#808000" stroke="#808000" stroke-width="1.0" stroke-linejoin="miter"/>
<polygon points="120.89,551.40 127.89,547.15 127.89,555.65" fill="#808000" stroke="#808000" stroke-width="1.0" stroke-linejoin="miter"/>
<polygon points="139.06,540.28 146.06,536.03 146.06,544.53" fill="#808000" stroke="#808000" stroke-width="1.0" stroke-linejoin="miter"/>
<polygon points="157.22,529.80 164.22,525.55 164.22,534.05" fill="#808000" stroke="#808000" stroke-width="1.0" stroke-linejoin="miter"/>
<polygon points="175.39,519.64 182.39,515.39 182.39,523.89" fill="#808000" stroke="#808000" stroke-width="1.0" stroke-linejoin="miter"/>
<polygon points="193.55,509.90 200.55,505.65 200.55,514.15" fill="#808000" stroke="#808000" stroke-width="1.0" stroke-linejoin="miter"/>
<polygon points="211.72,500.59 218.72,496.34 218.72,504.84" fill="#808000" stroke="#808000" stroke-width="1.0" stroke-linejoin="miter"/>
<polygon points="229.88,491.70 236.88,487.45 236.88,495.95" fill="#808000" stroke="#808000" stroke-width="1.0" stroke-linejoin="miter"/>
<polygon points="248.05,483.15 255.05,478.90 255.05,487.40" fill="#808000" stroke="#808000" stroke-width="1.0" stroke-linejoin="miter"/>
<polygon points="266.21,475.20 273.21,470.95 273.21,479.45" fill="#808000" stroke="#808000" stroke-width="1.0" stroke-linejoin="miter"/>
<polygon points="284.38,468.05 291.38,463.80 291.38,472.30" fill="#808000" stroke="#808000" stroke-width="1.0" stroke-linejoin="miter"/>
<polygon points="302.54,461.60 309.54,457.35 309.54,465.85" fill="#808000" stroke="#808000" stroke-width="1.0" stroke-linejoin="miter"/>
<polyline points="52.90,601.00 60.17,597.53 67.43,593.88 74.70,590.07 81.96,586.11 89.23,582.00 96.50,577.62 103.76,572.95 111.03,568.14 118.29,563.37 125.56,558.80 143.72,547.96 161.89,537.70 180.06,528.17 198.22,519.10 216.39,510.25 234.55,501.80 252.72,493.92 270.88,486.40 289.05,479.08 307.21,472.00" fill="none" stroke="#808000" stroke-width="1"/>
<polygon points="48.23,601.00 55.23,596.75 55.23,605.25" fill="#ffffff" stroke="#808000" stroke-width="1.0" stroke-linejoin="miter"/>
<polygon points="55.50,597.53 62.50,593.28 62.50,601.78" fill="#ffffff" stroke="#808000" stroke-width="1.0" stroke-linejoin="miter"/>
<polygon points="62.77,593.88 69.77,589.63 69.77,598.13" fill="#ffffff" stroke="#808000" stroke-width="1.0" stroke-linejoin="miter"/>
<polygon points="70.03,590.07 77.03,585.82 77.03,594.32" fill="#ffffff" stroke="#808000" stroke-width="1.0" stroke-linejoin="miter"/>
<polygon points="77.30,586.11 84.30,581.86 84.30,590.36" fill="#ffffff" stroke="#808000" stroke-width="1.0" stroke-linejoin="miter"/>
<polygon points="84.56,582.00 91.56,577.75 91.56,586.25" fill="#ffffff" stroke="#808000" stroke-width="1.0" stroke-linejoin="miter"/>
<polygon points="91.83,577.62 98.83,573.37 98.83,581.87" fill="#ffffff" stroke="#808000" stroke-width="1.0" stroke-linejoin="miter"/>
<polygon points="99.10,572.95 106.10,568.70 106.10,577.20" fill="#ffffff" stroke="#808000" stroke-width="1.0" stroke-linejoin="miter"/>
<polygon points="106.36,568.14 113.36,563.89 113.36,572.39" fill="#ffffff" stroke="#808000" stroke-width="1.0" stroke-linejoin="miter"/>
<polygon points="113.63,563.37 120.63,559.12 120.63,567.62" fill="#ffffff" stroke="#808000" stroke-width="1.0" stroke-linejoin="miter"/>
<polygon points="120.89,558.80 127.89,554.55 127.89,563.05" fill="#ffffff" stroke="#808000" stroke-width="1.0" stroke-linejoin="miter"/>
<polygon points="139.06,547.96 146.06,543.71 146.06,552.21" fill="#ffffff" stroke="#808000" stroke-width="1.0" stroke-linejoin="miter"/>
<polygon points="157.22,537.70 164.22,533.45 164.22,541.95" fill="#ffffff" stroke="#808000" stroke-width="1.0" stroke-linejoin="miter"/>
<polygon points="175.39,528.17 182.39,523.92 182.39,532.42" fill="#ffffff" stroke="#808000" stroke-width="1.0" stroke-linejoin="miter"/>
<polygon points="193.55,519.10 200.55,514.85 200.55,523.35" fill="#ffffff" stroke="#808000" stroke-width="1.0" stroke-linejoin="miter"/>
<polygon points="211.72,510.25 218.72,506.00 218.72,514.50" fill="#ffffff" stroke="#808000" stroke-width="1.0" stroke-linejoin="miter"/>
<polygon points="229.88,501.80 236.88,497.55 236.88,506.05" fill="#ffffff" stroke="#808000" stroke-width="1.0" stroke-linejoin="miter"/>
<polygon points="248.05,493.92 255.05,489.67 255.05,498.17" fill="#ffffff" stroke="#808000" stroke-width="1.0" stroke-linejoin="miter"/>
<polygon points="266.21,486.40 273.21,482.15 273.21,490.65" fill="#ffffff" stroke="#808000" stroke-width="1.0" stroke-linejoin="miter"/>
<polygon points="284.38,479.08 291.38,474.83 291.38,483.33" fill="#ffffff" stroke="#808000" stroke-width="1.0" stroke-linejoin="miter"/>
<polygon points="302.54,472.00 309.54,467.75 309.54,476.25" fill="#ffffff" stroke="#808000" stroke-width="1.0" stroke-linejoin="miter"/>
</g>
<line x1="193.3" y1="168.4" x2="212.3" y2="168.4" stroke="#000000" stroke-width="0.85"/>
<rect x="199.80" y="165.40" width="6.0" height="6.0" fill="#000000" stroke="#000000" stroke-width="1.0"/>
<text x="214.6" y="172.0" font-family="Liberation Serif" font-weight="bold" font-size="10.2">2K</text>
<line x1="193.3" y1="181.0" x2="212.3" y2="181.0" stroke="#000000" stroke-width="0.85"/>
<rect x="199.80" y="178.00" width="6.0" height="6.0" fill="#ffffff" stroke="#000000" stroke-width="1.0"/>
<text x="214.6" y="184.6" font-family="Liberation Serif" font-weight="bold" font-size="10.2">3K</text>
<line x1="193.3" y1="193.6" x2="212.3" y2="193.6" stroke="#800000" stroke-width="0.85"/>
<polygon points="202.80,190.10 207.00,197.10 198.60,197.10" fill="#800000" stroke="#800000" stroke-width="1.0" stroke-linejoin="miter"/>
<text x="214.6" y="197.2" font-family="Liberation Serif" font-weight="bold" font-size="10.2">4K</text>
<line x1="231.2" y1="154.7" x2="250.2" y2="154.7" stroke="#800000" stroke-width="0.85"/>
<polygon points="240.70,151.20 244.90,158.20 236.50,158.20" fill="#ffffff" stroke="#800000" stroke-width="1.0" stroke-linejoin="miter"/>
<text x="253.0" y="158.3" font-family="Liberation Serif" font-weight="bold" font-size="10.2">5K</text>
<line x1="231.2" y1="167.4" x2="250.2" y2="167.4" stroke="#0000ff" stroke-width="0.85"/>
<circle cx="240.70" cy="167.40" r="3.5" fill="#0000ff" stroke="#0000ff" stroke-width="1.0"/>
<text x="253.0" y="171.0" font-family="Liberation Serif" font-weight="bold" font-size="10.2">6K</text>
<line x1="231.2" y1="180.1" x2="250.2" y2="180.1" stroke="#0000ff" stroke-width="0.85"/>
<circle cx="240.70" cy="180.10" r="3.5" fill="#ffffff" stroke="#0000ff" stroke-width="1.0"/>
<text x="253.0" y="183.7" font-family="Liberation Serif" font-weight="bold" font-size="10.2">8K</text>
<line x1="231.2" y1="192.9" x2="250.2" y2="192.9" stroke="#008080" stroke-width="0.85"/>
<polygon points="240.70,196.40 244.90,189.40 236.50,189.40" fill="#008080" stroke="#008080" stroke-width="1.0" stroke-linejoin="miter"/>
<text x="253.0" y="196.5" font-family="Liberation Serif" font-weight="bold" font-size="10.2">10K</text>
<line x1="272.4" y1="141.7" x2="291.2" y2="141.7" stroke="#109010" stroke-width="0.85"/>
<polygon points="281.80,145.20 286.00,138.20 277.60,138.20" fill="#ffffff" stroke="#109010" stroke-width="1.0" stroke-linejoin="miter"/>
<text x="294.2" y="145.3" font-family="Liberation Serif" font-weight="bold" font-size="10.2">12K</text>
<line x1="272.4" y1="154.6" x2="291.2" y2="154.6" stroke="#8000ff" stroke-width="0.85"/>
<polygon points="281.80,150.10 286.10,154.60 281.80,159.10 277.50,154.60" fill="#8000ff" stroke="#8000ff" stroke-width="1.0" stroke-linejoin="miter"/>
<text x="294.2" y="158.2" font-family="Liberation Serif" font-weight="bold" font-size="10.2">16K</text>
<line x1="272.4" y1="167.3" x2="291.2" y2="167.3" stroke="#8000ff" stroke-width="0.85"/>
<polygon points="281.80,162.80 286.10,167.30 281.80,171.80 277.50,167.30" fill="#ffffff" stroke="#8000ff" stroke-width="1.0" stroke-linejoin="miter"/>
<text x="294.2" y="170.9" font-family="Liberation Serif" font-weight="bold" font-size="10.2">20K</text>
<line x1="272.4" y1="180.0" x2="291.2" y2="180.0" stroke="#808000" stroke-width="0.85"/>
<polygon points="277.13,180.00 284.13,175.75 284.13,184.25" fill="#808000" stroke="#808000" stroke-width="1.0" stroke-linejoin="miter"/>
<text x="294.2" y="183.6" font-family="Liberation Serif" font-weight="bold" font-size="10.2">24K</text>
<line x1="272.4" y1="192.8" x2="291.2" y2="192.8" stroke="#808000" stroke-width="0.85"/>
<polygon points="277.13,192.80 284.13,188.55 284.13,197.05" fill="#ffffff" stroke="#808000" stroke-width="1.0" stroke-linejoin="miter"/>
<text x="294.2" y="196.4" font-family="Liberation Serif" font-weight="bold" font-size="10.2">30K</text>
<line x1="193.3" y1="364.9" x2="212.3" y2="364.9" stroke="#000000" stroke-width="0.85"/>
<rect x="199.80" y="361.90" width="6.0" height="6.0" fill="#000000" stroke="#000000" stroke-width="1.0"/>
<text x="214.6" y="368.5" font-family="Liberation Serif" font-weight="bold" font-size="10.2">2K</text>
<line x1="193.3" y1="378.8" x2="212.3" y2="378.8" stroke="#000000" stroke-width="0.85"/>
<rect x="199.80" y="375.80" width="6.0" height="6.0" fill="#ffffff" stroke="#000000" stroke-width="1.0"/>
<text x="214.6" y="382.4" font-family="Liberation Serif" font-weight="bold" font-size="10.2">4K</text>
<line x1="193.3" y1="391.8" x2="212.3" y2="391.8" stroke="#800000" stroke-width="0.85"/>
<polygon points="202.80,388.30 207.00,395.30 198.60,395.30" fill="#800000" stroke="#800000" stroke-width="1.0" stroke-linejoin="miter"/>
<text x="214.6" y="395.4" font-family="Liberation Serif" font-weight="bold" font-size="10.2">6K</text>
<line x1="231.2" y1="352.0" x2="250.2" y2="352.0" stroke="#800000" stroke-width="0.85"/>
<polygon points="240.70,348.50 244.90,355.50 236.50,355.50" fill="#ffffff" stroke="#800000" stroke-width="1.0" stroke-linejoin="miter"/>
<text x="253.0" y="355.6" font-family="Liberation Serif" font-weight="bold" font-size="10.2">8K</text>
<line x1="231.2" y1="365.1" x2="250.2" y2="365.1" stroke="#0000ff" stroke-width="0.85"/>
<circle cx="240.70" cy="365.10" r="3.5" fill="#0000ff" stroke="#0000ff" stroke-width="1.0"/>
<text x="253.0" y="368.7" font-family="Liberation Serif" font-weight="bold" font-size="10.2">10K</text>
<line x1="231.2" y1="378.7" x2="250.2" y2="378.7" stroke="#0000ff" stroke-width="0.85"/>
<circle cx="240.70" cy="378.70" r="3.5" fill="#ffffff" stroke="#0000ff" stroke-width="1.0"/>
<text x="253.0" y="382.3" font-family="Liberation Serif" font-weight="bold" font-size="10.2">12K</text>
<line x1="231.2" y1="392.0" x2="250.2" y2="392.0" stroke="#008000" stroke-width="0.85"/>
<polygon points="240.70,395.50 244.90,388.50 236.50,388.50" fill="#008000" stroke="#008000" stroke-width="1.0" stroke-linejoin="miter"/>
<text x="253.0" y="395.6" font-family="Liberation Serif" font-weight="bold" font-size="10.2">14K</text>
<line x1="272.4" y1="342.3" x2="291.2" y2="342.3" stroke="#008000" stroke-width="0.85"/>
<polygon points="281.80,345.80 286.00,338.80 277.60,338.80" fill="#ffffff" stroke="#008000" stroke-width="1.0" stroke-linejoin="miter"/>
<text x="294.2" y="345.9" font-family="Liberation Serif" font-weight="bold" font-size="10.2">16K</text>
<line x1="272.4" y1="354.8" x2="291.2" y2="354.8" stroke="#8000ff" stroke-width="0.85"/>
<polygon points="281.80,350.30 286.10,354.80 281.80,359.30 277.50,354.80" fill="#8000ff" stroke="#8000ff" stroke-width="1.0" stroke-linejoin="miter"/>
<text x="294.2" y="358.4" font-family="Liberation Serif" font-weight="bold" font-size="10.2">20K</text>
<line x1="272.4" y1="367.3" x2="291.2" y2="367.3" stroke="#8000ff" stroke-width="0.85"/>
<polygon points="281.80,362.80 286.10,367.30 281.80,371.80 277.50,367.30" fill="#ffffff" stroke="#8000ff" stroke-width="1.0" stroke-linejoin="miter"/>
<text x="294.2" y="370.9" font-family="Liberation Serif" font-weight="bold" font-size="10.2">24K</text>
<line x1="272.4" y1="379.7" x2="291.2" y2="379.7" stroke="#808000" stroke-width="0.85"/>
<polygon points="277.13,379.70 284.13,375.45 284.13,383.95" fill="#808000" stroke="#808000" stroke-width="1.0" stroke-linejoin="miter"/>
<text x="294.2" y="383.3" font-family="Liberation Serif" font-weight="bold" font-size="10.2">28K</text>
<line x1="272.4" y1="392.0" x2="291.2" y2="392.0" stroke="#808000" stroke-width="0.85"/>
<polygon points="277.13,392.00 284.13,387.75 284.13,396.25" fill="#ffffff" stroke="#808000" stroke-width="1.0" stroke-linejoin="miter"/>
<text x="294.2" y="395.6" font-family="Liberation Serif" font-weight="bold" font-size="10.2">35K</text>
<line x1="193.3" y1="567.9" x2="212.3" y2="567.9" stroke="#000000" stroke-width="0.85"/>
<rect x="199.80" y="564.90" width="6.0" height="6.0" fill="#000000" stroke="#000000" stroke-width="1.0"/>
<text x="214.6" y="571.5" font-family="Liberation Serif" font-weight="bold" font-size="10.2">2K</text>
<line x1="193.3" y1="580.0" x2="212.3" y2="580.0" stroke="#000000" stroke-width="0.85"/>
<rect x="199.80" y="577.00" width="6.0" height="6.0" fill="#ffffff" stroke="#000000" stroke-width="1.0"/>
<text x="214.6" y="583.6" font-family="Liberation Serif" font-weight="bold" font-size="10.2">4K</text>
<line x1="193.3" y1="592.5" x2="212.3" y2="592.5" stroke="#800000" stroke-width="0.85"/>
<polygon points="202.80,589.00 207.00,596.00 198.60,596.00" fill="#800000" stroke="#800000" stroke-width="1.0" stroke-linejoin="miter"/>
<text x="214.6" y="596.1" font-family="Liberation Serif" font-weight="bold" font-size="10.2">6K</text>
<line x1="231.2" y1="554.3" x2="250.2" y2="554.3" stroke="#800000" stroke-width="0.85"/>
<polygon points="240.70,550.80 244.90,557.80 236.50,557.80" fill="#ffffff" stroke="#800000" stroke-width="1.0" stroke-linejoin="miter"/>
<text x="253.0" y="557.9" font-family="Liberation Serif" font-weight="bold" font-size="10.2">8K</text>
<line x1="231.2" y1="567.9" x2="250.2" y2="567.9" stroke="#0000ff" stroke-width="0.85"/>
<circle cx="240.70" cy="567.90" r="3.5" fill="#0000ff" stroke="#0000ff" stroke-width="1.0"/>
<text x="253.0" y="571.5" font-family="Liberation Serif" font-weight="bold" font-size="10.2">10K</text>
<line x1="231.2" y1="580.0" x2="250.2" y2="580.0" stroke="#0000ff" stroke-width="0.85"/>
<circle cx="240.70" cy="580.00" r="3.5" fill="#ffffff" stroke="#0000ff" stroke-width="1.0"/>
<text x="253.0" y="583.6" font-family="Liberation Serif" font-weight="bold" font-size="10.2">12K</text>
<line x1="231.2" y1="592.6" x2="250.2" y2="592.6" stroke="#008000" stroke-width="0.85"/>
<polygon points="240.70,596.10 244.90,589.10 236.50,589.10" fill="#008000" stroke="#008000" stroke-width="1.0" stroke-linejoin="miter"/>
<text x="253.0" y="596.2" font-family="Liberation Serif" font-weight="bold" font-size="10.2">14K</text>
<line x1="272.4" y1="542.0" x2="291.2" y2="542.0" stroke="#008000" stroke-width="0.85"/>
<polygon points="281.80,545.50 286.00,538.50 277.60,538.50" fill="#ffffff" stroke="#008000" stroke-width="1.0" stroke-linejoin="miter"/>
<text x="294.2" y="545.6" font-family="Liberation Serif" font-weight="bold" font-size="10.2">18K</text>
<line x1="272.4" y1="554.8" x2="291.2" y2="554.8" stroke="#8000ff" stroke-width="0.85"/>
<polygon points="281.80,550.30 286.10,554.80 281.80,559.30 277.50,554.80" fill="#8000ff" stroke="#8000ff" stroke-width="1.0" stroke-linejoin="miter"/>
<text x="294.2" y="558.4" font-family="Liberation Serif" font-weight="bold" font-size="10.2">22K</text>
<line x1="272.4" y1="567.9" x2="291.2" y2="567.9" stroke="#8000ff" stroke-width="0.85"/>
<polygon points="281.80,563.40 286.10,567.90 281.80,572.40 277.50,567.90" fill="#ffffff" stroke="#8000ff" stroke-width="1.0" stroke-linejoin="miter"/>
<text x="294.2" y="571.5" font-family="Liberation Serif" font-weight="bold" font-size="10.2">26K</text>
<line x1="272.4" y1="580.9" x2="291.2" y2="580.9" stroke="#808000" stroke-width="0.85"/>
<polygon points="277.13,580.90 284.13,576.65 284.13,585.15" fill="#808000" stroke="#808000" stroke-width="1.0" stroke-linejoin="miter"/>
<text x="294.2" y="584.5" font-family="Liberation Serif" font-weight="bold" font-size="10.2">30K</text>
<line x1="272.4" y1="592.9" x2="291.2" y2="592.9" stroke="#808000" stroke-width="0.85"/>
<polygon points="277.13,592.90 284.13,588.65 284.13,597.15" fill="#ffffff" stroke="#808000" stroke-width="1.0" stroke-linejoin="miter"/>
<text x="294.2" y="596.5" font-family="Liberation Serif" font-weight="bold" font-size="10.2">35K</text>
<line x1="53.1" y1="200.75" x2="56.7" y2="200.75" stroke="#000" stroke-width="1.1"/>
<line x1="316.5" y1="200.75" x2="312.7" y2="200.75" stroke="#ff0000" stroke-width="1.1"/>
<text transform="translate(48.80,204.85) scale(1,1.03)" font-family="Liberation Serif" font-weight="bold" font-size="13.6" text-anchor="end" fill="#000" >0</text>
<text transform="translate(320.00,205.25) scale(1.02,1.03)" font-family="Liberation Serif" font-weight="bold" font-size="13.6" text-anchor="start" fill="#ff0000" >0.0</text>
<line x1="53.1" y1="178.53" x2="55.300000000000004" y2="178.53" stroke="#000" stroke-width="1.1"/>
<line x1="316.5" y1="178.53" x2="314.1" y2="178.53" stroke="#ff0000" stroke-width="1.1"/>
<line x1="53.1" y1="156.31" x2="56.7" y2="156.31" stroke="#000" stroke-width="1.1"/>
<line x1="316.5" y1="156.31" x2="312.7" y2="156.31" stroke="#ff0000" stroke-width="1.1"/>
<text transform="translate(48.80,160.41) scale(1,1.03)" font-family="Liberation Serif" font-weight="bold" font-size="13.6" text-anchor="end" fill="#000" >38</text>
<text transform="translate(320.00,160.81) scale(1.02,1.03)" font-family="Liberation Serif" font-weight="bold" font-size="13.6" text-anchor="start" fill="#ff0000" >3.5</text>
<line x1="53.1" y1="134.09" x2="55.300000000000004" y2="134.09" stroke="#000" stroke-width="1.1"/>
<line x1="316.5" y1="134.09" x2="314.1" y2="134.09" stroke="#ff0000" stroke-width="1.1"/>
<line x1="53.1" y1="111.88" x2="56.7" y2="111.88" stroke="#000" stroke-width="1.1"/>
<line x1="316.5" y1="111.88" x2="312.7" y2="111.88" stroke="#ff0000" stroke-width="1.1"/>
<text transform="translate(48.80,115.97) scale(1,1.03)" font-family="Liberation Serif" font-weight="bold" font-size="13.6" text-anchor="end" fill="#000" >76</text>
<text transform="translate(320.00,116.38) scale(1.02,1.03)" font-family="Liberation Serif" font-weight="bold" font-size="13.6" text-anchor="start" fill="#ff0000" >7.0</text>
<line x1="53.1" y1="89.66" x2="55.300000000000004" y2="89.66" stroke="#000" stroke-width="1.1"/>
<line x1="316.5" y1="89.66" x2="314.1" y2="89.66" stroke="#ff0000" stroke-width="1.1"/>
<line x1="53.1" y1="67.44" x2="56.7" y2="67.44" stroke="#000" stroke-width="1.1"/>
<line x1="316.5" y1="67.44" x2="312.7" y2="67.44" stroke="#ff0000" stroke-width="1.1"/>
<text transform="translate(48.80,71.54) scale(1,1.03)" font-family="Liberation Serif" font-weight="bold" font-size="13.6" text-anchor="end" fill="#000" >114</text>
<text transform="translate(320.00,71.94) scale(1.02,1.03)" font-family="Liberation Serif" font-weight="bold" font-size="13.6" text-anchor="start" fill="#ff0000" >10.5</text>
<line x1="53.1" y1="45.22" x2="55.300000000000004" y2="45.22" stroke="#000" stroke-width="1.1"/>
<line x1="316.5" y1="45.22" x2="314.1" y2="45.22" stroke="#ff0000" stroke-width="1.1"/>
<line x1="53.1" y1="23.00" x2="56.7" y2="23.00" stroke="#000" stroke-width="1.1"/>
<line x1="316.5" y1="23.00" x2="312.7" y2="23.00" stroke="#ff0000" stroke-width="1.1"/>
<text transform="translate(48.80,27.10) scale(1,1.03)" font-family="Liberation Serif" font-weight="bold" font-size="13.6" text-anchor="end" fill="#000" >152</text>
<text transform="translate(320.00,27.50) scale(1.02,1.03)" font-family="Liberation Serif" font-weight="bold" font-size="13.6" text-anchor="start" fill="#ff0000" >14.0</text>
<line x1="52.90" y1="0.9" x2="52.90" y2="4.7" stroke="#000" stroke-width="1.2"/>
<line x1="52.90" y1="200.75" x2="52.90" y2="196.95" stroke="#000" stroke-width="1.2"/>
<line x1="71.06" y1="0.9" x2="71.06" y2="3.3" stroke="#000" stroke-width="1.2"/>
<line x1="71.06" y1="200.75" x2="71.06" y2="198.35" stroke="#000" stroke-width="1.2"/>
<line x1="89.23" y1="0.9" x2="89.23" y2="4.7" stroke="#000" stroke-width="1.2"/>
<line x1="89.23" y1="200.75" x2="89.23" y2="196.95" stroke="#000" stroke-width="1.2"/>
<line x1="107.39" y1="0.9" x2="107.39" y2="3.3" stroke="#000" stroke-width="1.2"/>
<line x1="107.39" y1="200.75" x2="107.39" y2="198.35" stroke="#000" stroke-width="1.2"/>
<line x1="125.56" y1="0.9" x2="125.56" y2="4.7" stroke="#000" stroke-width="1.2"/>
<line x1="125.56" y1="200.75" x2="125.56" y2="196.95" stroke="#000" stroke-width="1.2"/>
<line x1="143.72" y1="0.9" x2="143.72" y2="3.3" stroke="#000" stroke-width="1.2"/>
<line x1="143.72" y1="200.75" x2="143.72" y2="198.35" stroke="#000" stroke-width="1.2"/>
<line x1="161.89" y1="0.9" x2="161.89" y2="4.7" stroke="#000" stroke-width="1.2"/>
<line x1="161.89" y1="200.75" x2="161.89" y2="196.95" stroke="#000" stroke-width="1.2"/>
<line x1="180.06" y1="0.9" x2="180.06" y2="3.3" stroke="#000" stroke-width="1.2"/>
<line x1="180.06" y1="200.75" x2="180.06" y2="198.35" stroke="#000" stroke-width="1.2"/>
<line x1="198.22" y1="0.9" x2="198.22" y2="4.7" stroke="#000" stroke-width="1.2"/>
<line x1="198.22" y1="200.75" x2="198.22" y2="196.95" stroke="#000" stroke-width="1.2"/>
<line x1="216.39" y1="0.9" x2="216.39" y2="3.3" stroke="#000" stroke-width="1.2"/>
<line x1="216.39" y1="200.75" x2="216.39" y2="198.35" stroke="#000" stroke-width="1.2"/>
<line x1="234.55" y1="0.9" x2="234.55" y2="4.7" stroke="#000" stroke-width="1.2"/>
<line x1="234.55" y1="200.75" x2="234.55" y2="196.95" stroke="#000" stroke-width="1.2"/>
<line x1="252.72" y1="0.9" x2="252.72" y2="3.3" stroke="#000" stroke-width="1.2"/>
<line x1="252.72" y1="200.75" x2="252.72" y2="198.35" stroke="#000" stroke-width="1.2"/>
<line x1="270.88" y1="0.9" x2="270.88" y2="4.7" stroke="#000" stroke-width="1.2"/>
<line x1="270.88" y1="200.75" x2="270.88" y2="196.95" stroke="#000" stroke-width="1.2"/>
<line x1="289.05" y1="0.9" x2="289.05" y2="3.3" stroke="#000" stroke-width="1.2"/>
<line x1="289.05" y1="200.75" x2="289.05" y2="198.35" stroke="#000" stroke-width="1.2"/>
<line x1="307.21" y1="0.9" x2="307.21" y2="4.7" stroke="#000" stroke-width="1.2"/>
<line x1="307.21" y1="200.75" x2="307.21" y2="196.95" stroke="#000" stroke-width="1.2"/>
<line x1="53.1" y1="400.75" x2="56.7" y2="400.75" stroke="#000" stroke-width="1.1"/>
<line x1="316.5" y1="400.75" x2="312.7" y2="400.75" stroke="#ff0000" stroke-width="1.1"/>
<text transform="translate(48.80,404.85) scale(1,1.03)" font-family="Liberation Serif" font-weight="bold" font-size="13.6" text-anchor="end" fill="#000" >0</text>
<text transform="translate(320.00,405.25) scale(1.02,1.03)" font-family="Liberation Serif" font-weight="bold" font-size="13.6" text-anchor="start" fill="#ff0000" >0.0</text>
<line x1="53.1" y1="378.48" x2="55.300000000000004" y2="378.48" stroke="#000" stroke-width="1.1"/>
<line x1="316.5" y1="378.48" x2="314.1" y2="378.48" stroke="#ff0000" stroke-width="1.1"/>
<line x1="53.1" y1="356.21" x2="56.7" y2="356.21" stroke="#000" stroke-width="1.1"/>
<line x1="316.5" y1="356.21" x2="312.7" y2="356.21" stroke="#ff0000" stroke-width="1.1"/>
<text transform="translate(48.80,360.31) scale(1,1.03)" font-family="Liberation Serif" font-weight="bold" font-size="13.6" text-anchor="end" fill="#000" >25</text>
<text transform="translate(320.00,360.71) scale(1.02,1.03)" font-family="Liberation Serif" font-weight="bold" font-size="13.6" text-anchor="start" fill="#ff0000" >2.3</text>
<line x1="53.1" y1="333.94" x2="55.300000000000004" y2="333.94" stroke="#000" stroke-width="1.1"/>
<line x1="316.5" y1="333.94" x2="314.1" y2="333.94" stroke="#ff0000" stroke-width="1.1"/>
<line x1="53.1" y1="311.68" x2="56.7" y2="311.68" stroke="#000" stroke-width="1.1"/>
<line x1="316.5" y1="311.68" x2="312.7" y2="311.68" stroke="#ff0000" stroke-width="1.1"/>
<text transform="translate(48.80,315.78) scale(1,1.03)" font-family="Liberation Serif" font-weight="bold" font-size="13.6" text-anchor="end" fill="#000" >50</text>
<text transform="translate(320.00,316.18) scale(1.02,1.03)" font-family="Liberation Serif" font-weight="bold" font-size="13.6" text-anchor="start" fill="#ff0000" >4.6</text>
<line x1="53.1" y1="289.41" x2="55.300000000000004" y2="289.41" stroke="#000" stroke-width="1.1"/>
<line x1="316.5" y1="289.41" x2="314.1" y2="289.41" stroke="#ff0000" stroke-width="1.1"/>
<line x1="53.1" y1="267.14" x2="56.7" y2="267.14" stroke="#000" stroke-width="1.1"/>
<line x1="316.5" y1="267.14" x2="312.7" y2="267.14" stroke="#ff0000" stroke-width="1.1"/>
<text transform="translate(48.80,271.24) scale(1,1.03)" font-family="Liberation Serif" font-weight="bold" font-size="13.6" text-anchor="end" fill="#000" >75</text>
<text transform="translate(320.00,271.64) scale(1.02,1.03)" font-family="Liberation Serif" font-weight="bold" font-size="13.6" text-anchor="start" fill="#ff0000" >6.9</text>
<line x1="53.1" y1="244.87" x2="55.300000000000004" y2="244.87" stroke="#000" stroke-width="1.1"/>
<line x1="316.5" y1="244.87" x2="314.1" y2="244.87" stroke="#ff0000" stroke-width="1.1"/>
<line x1="53.1" y1="222.60" x2="56.7" y2="222.60" stroke="#000" stroke-width="1.1"/>
<line x1="316.5" y1="222.60" x2="312.7" y2="222.60" stroke="#ff0000" stroke-width="1.1"/>
<text transform="translate(48.80,226.70) scale(1,1.03)" font-family="Liberation Serif" font-weight="bold" font-size="13.6" text-anchor="end" fill="#000" >100</text>
<text transform="translate(320.00,227.10) scale(1.02,1.03)" font-family="Liberation Serif" font-weight="bold" font-size="13.6" text-anchor="start" fill="#ff0000" >9.2</text>
<line x1="52.90" y1="200.75" x2="52.90" y2="204.55" stroke="#000" stroke-width="1.2"/>
<line x1="52.90" y1="400.75" x2="52.90" y2="396.95" stroke="#000" stroke-width="1.2"/>
<line x1="71.06" y1="200.75" x2="71.06" y2="203.15" stroke="#000" stroke-width="1.2"/>
<line x1="71.06" y1="400.75" x2="71.06" y2="398.35" stroke="#000" stroke-width="1.2"/>
<line x1="89.23" y1="200.75" x2="89.23" y2="204.55" stroke="#000" stroke-width="1.2"/>
<line x1="89.23" y1="400.75" x2="89.23" y2="396.95" stroke="#000" stroke-width="1.2"/>
<line x1="107.39" y1="200.75" x2="107.39" y2="203.15" stroke="#000" stroke-width="1.2"/>
<line x1="107.39" y1="400.75" x2="107.39" y2="398.35" stroke="#000" stroke-width="1.2"/>
<line x1="125.56" y1="200.75" x2="125.56" y2="204.55" stroke="#000" stroke-width="1.2"/>
<line x1="125.56" y1="400.75" x2="125.56" y2="396.95" stroke="#000" stroke-width="1.2"/>
<line x1="143.72" y1="200.75" x2="143.72" y2="203.15" stroke="#000" stroke-width="1.2"/>
<line x1="143.72" y1="400.75" x2="143.72" y2="398.35" stroke="#000" stroke-width="1.2"/>
<line x1="161.89" y1="200.75" x2="161.89" y2="204.55" stroke="#000" stroke-width="1.2"/>
<line x1="161.89" y1="400.75" x2="161.89" y2="396.95" stroke="#000" stroke-width="1.2"/>
<line x1="180.06" y1="200.75" x2="180.06" y2="203.15" stroke="#000" stroke-width="1.2"/>
<line x1="180.06" y1="400.75" x2="180.06" y2="398.35" stroke="#000" stroke-width="1.2"/>
<line x1="198.22" y1="200.75" x2="198.22" y2="204.55" stroke="#000" stroke-width="1.2"/>
<line x1="198.22" y1="400.75" x2="198.22" y2="396.95" stroke="#000" stroke-width="1.2"/>
<line x1="216.39" y1="200.75" x2="216.39" y2="203.15" stroke="#000" stroke-width="1.2"/>
<line x1="216.39" y1="400.75" x2="216.39" y2="398.35" stroke="#000" stroke-width="1.2"/>
<line x1="234.55" y1="200.75" x2="234.55" y2="204.55" stroke="#000" stroke-width="1.2"/>
<line x1="234.55" y1="400.75" x2="234.55" y2="396.95" stroke="#000" stroke-width="1.2"/>
<line x1="252.72" y1="200.75" x2="252.72" y2="203.15" stroke="#000" stroke-width="1.2"/>
<line x1="252.72" y1="400.75" x2="252.72" y2="398.35" stroke="#000" stroke-width="1.2"/>
<line x1="270.88" y1="200.75" x2="270.88" y2="204.55" stroke="#000" stroke-width="1.2"/>
<line x1="270.88" y1="400.75" x2="270.88" y2="396.95" stroke="#000" stroke-width="1.2"/>
<line x1="289.05" y1="200.75" x2="289.05" y2="203.15" stroke="#000" stroke-width="1.2"/>
<line x1="289.05" y1="400.75" x2="289.05" y2="398.35" stroke="#000" stroke-width="1.2"/>
<line x1="307.21" y1="200.75" x2="307.21" y2="204.55" stroke="#000" stroke-width="1.2"/>
<line x1="307.21" y1="400.75" x2="307.21" y2="396.95" stroke="#000" stroke-width="1.2"/>
<line x1="53.1" y1="600.75" x2="56.7" y2="600.75" stroke="#000" stroke-width="1.1"/>
<line x1="316.5" y1="600.75" x2="312.7" y2="600.75" stroke="#ff0000" stroke-width="1.1"/>
<text transform="translate(48.80,604.85) scale(1,1.03)" font-family="Liberation Serif" font-weight="bold" font-size="13.6" text-anchor="end" fill="#000" >0</text>
<text transform="translate(320.00,605.25) scale(1.02,1.03)" font-family="Liberation Serif" font-weight="bold" font-size="13.6" text-anchor="start" fill="#ff0000" >0.0</text>
<line x1="53.1" y1="578.47" x2="55.300000000000004" y2="578.47" stroke="#000" stroke-width="1.1"/>
<line x1="316.5" y1="578.47" x2="314.1" y2="578.47" stroke="#ff0000" stroke-width="1.1"/>
<line x1="53.1" y1="556.19" x2="56.7" y2="556.19" stroke="#000" stroke-width="1.1"/>
<line x1="316.5" y1="556.19" x2="312.7" y2="556.19" stroke="#ff0000" stroke-width="1.1"/>
<text transform="translate(48.80,560.29) scale(1,1.03)" font-family="Liberation Serif" font-weight="bold" font-size="13.6" text-anchor="end" fill="#000" >25</text>
<text transform="translate(320.00,560.69) scale(1.02,1.03)" font-family="Liberation Serif" font-weight="bold" font-size="13.6" text-anchor="start" fill="#ff0000" >2.4</text>
<line x1="53.1" y1="533.91" x2="55.300000000000004" y2="533.91" stroke="#000" stroke-width="1.1"/>
<line x1="316.5" y1="533.91" x2="314.1" y2="533.91" stroke="#ff0000" stroke-width="1.1"/>
<line x1="53.1" y1="511.62" x2="56.7" y2="511.62" stroke="#000" stroke-width="1.1"/>
<line x1="316.5" y1="511.62" x2="312.7" y2="511.62" stroke="#ff0000" stroke-width="1.1"/>
<text transform="translate(48.80,515.73) scale(1,1.03)" font-family="Liberation Serif" font-weight="bold" font-size="13.6" text-anchor="end" fill="#000" >50</text>
<text transform="translate(320.00,516.12) scale(1.02,1.03)" font-family="Liberation Serif" font-weight="bold" font-size="13.6" text-anchor="start" fill="#ff0000" >4.8</text>
<line x1="53.1" y1="489.34" x2="55.300000000000004" y2="489.34" stroke="#000" stroke-width="1.1"/>
<line x1="316.5" y1="489.34" x2="314.1" y2="489.34" stroke="#ff0000" stroke-width="1.1"/>
<line x1="53.1" y1="467.06" x2="56.7" y2="467.06" stroke="#000" stroke-width="1.1"/>
<line x1="316.5" y1="467.06" x2="312.7" y2="467.06" stroke="#ff0000" stroke-width="1.1"/>
<text transform="translate(48.80,471.16) scale(1,1.03)" font-family="Liberation Serif" font-weight="bold" font-size="13.6" text-anchor="end" fill="#000" >75</text>
<text transform="translate(320.00,471.56) scale(1.02,1.03)" font-family="Liberation Serif" font-weight="bold" font-size="13.6" text-anchor="start" fill="#ff0000" >7.2</text>
<line x1="53.1" y1="444.78" x2="55.300000000000004" y2="444.78" stroke="#000" stroke-width="1.1"/>
<line x1="316.5" y1="444.78" x2="314.1" y2="444.78" stroke="#ff0000" stroke-width="1.1"/>
<line x1="53.1" y1="422.50" x2="56.7" y2="422.50" stroke="#000" stroke-width="1.1"/>
<line x1="316.5" y1="422.50" x2="312.7" y2="422.50" stroke="#ff0000" stroke-width="1.1"/>
<text transform="translate(48.80,426.60) scale(1,1.03)" font-family="Liberation Serif" font-weight="bold" font-size="13.6" text-anchor="end" fill="#000" >100</text>
<text transform="translate(320.00,427.00) scale(1.02,1.03)" font-family="Liberation Serif" font-weight="bold" font-size="13.6" text-anchor="start" fill="#ff0000" >9.6</text>
<line x1="52.90" y1="400.75" x2="52.90" y2="404.55" stroke="#000" stroke-width="1.2"/>
<line x1="52.90" y1="600.75" x2="52.90" y2="596.95" stroke="#000" stroke-width="1.2"/>
<text transform="translate(52.90,615.90) scale(1,1.03)" font-family="Liberation Serif" font-weight="bold" font-size="13.6" text-anchor="middle" fill="#000" >0</text>
<line x1="71.06" y1="400.75" x2="71.06" y2="403.15" stroke="#000" stroke-width="1.2"/>
<line x1="71.06" y1="600.75" x2="71.06" y2="598.35" stroke="#000" stroke-width="1.2"/>
<line x1="89.23" y1="400.75" x2="89.23" y2="404.55" stroke="#000" stroke-width="1.2"/>
<line x1="89.23" y1="600.75" x2="89.23" y2="596.95" stroke="#000" stroke-width="1.2"/>
<text transform="translate(89.23,615.90) scale(1,1.03)" font-family="Liberation Serif" font-weight="bold" font-size="13.6" text-anchor="middle" fill="#000" >10</text>
<line x1="107.39" y1="400.75" x2="107.39" y2="403.15" stroke="#000" stroke-width="1.2"/>
<line x1="107.39" y1="600.75" x2="107.39" y2="598.35" stroke="#000" stroke-width="1.2"/>
<line x1="125.56" y1="400.75" x2="125.56" y2="404.55" stroke="#000" stroke-width="1.2"/>
<line x1="125.56" y1="600.75" x2="125.56" y2="596.95" stroke="#000" stroke-width="1.2"/>
<text transform="translate(125.56,615.90) scale(1,1.03)" font-family="Liberation Serif" font-weight="bold" font-size="13.6" text-anchor="middle" fill="#000" >20</text>
<line x1="143.72" y1="400.75" x2="143.72" y2="403.15" stroke="#000" stroke-width="1.2"/>
<line x1="143.72" y1="600.75" x2="143.72" y2="598.35" stroke="#000" stroke-width="1.2"/>
<line x1="161.89" y1="400.75" x2="161.89" y2="404.55" stroke="#000" stroke-width="1.2"/>
<line x1="161.89" y1="600.75" x2="161.89" y2="596.95" stroke="#000" stroke-width="1.2"/>
<text transform="translate(161.89,615.90) scale(1,1.03)" font-family="Liberation Serif" font-weight="bold" font-size="13.6" text-anchor="middle" fill="#000" >30</text>
<line x1="180.06" y1="400.75" x2="180.06" y2="403.15" stroke="#000" stroke-width="1.2"/>
<line x1="180.06" y1="600.75" x2="180.06" y2="598.35" stroke="#000" stroke-width="1.2"/>
<line x1="198.22" y1="400.75" x2="198.22" y2="404.55" stroke="#000" stroke-width="1.2"/>
<line x1="198.22" y1="600.75" x2="198.22" y2="596.95" stroke="#000" stroke-width="1.2"/>
<text transform="translate(198.22,615.90) scale(1,1.03)" font-family="Liberation Serif" font-weight="bold" font-size="13.6" text-anchor="middle" fill="#000" >40</text>
<line x1="216.39" y1="400.75" x2="216.39" y2="403.15" stroke="#000" stroke-width="1.2"/>
<line x1="216.39" y1="600.75" x2="216.39" y2="598.35" stroke="#000" stroke-width="1.2"/>
<line x1="234.55" y1="400.75" x2="234.55" y2="404.55" stroke="#000" stroke-width="1.2"/>
<line x1="234.55" y1="600.75" x2="234.55" y2="596.95" stroke="#000" stroke-width="1.2"/>
<text transform="translate(234.55,615.90) scale(1,1.03)" font-family="Liberation Serif" font-weight="bold" font-size="13.6" text-anchor="middle" fill="#000" >50</text>
<line x1="252.72" y1="400.75" x2="252.72" y2="403.15" stroke="#000" stroke-width="1.2"/>
<line x1="252.72" y1="600.75" x2="252.72" y2="598.35" stroke="#000" stroke-width="1.2"/>
<line x1="270.88" y1="400.75" x2="270.88" y2="404.55" stroke="#000" stroke-width="1.2"/>
<line x1="270.88" y1="600.75" x2="270.88" y2="596.95" stroke="#000" stroke-width="1.2"/>
<text transform="translate(270.88,615.90) scale(1,1.03)" font-family="Liberation Serif" font-weight="bold" font-size="13.6" text-anchor="middle" fill="#000" >60</text>
<line x1="289.05" y1="400.75" x2="289.05" y2="403.15" stroke="#000" stroke-width="1.2"/>
<line x1="289.05" y1="600.75" x2="289.05" y2="598.35" stroke="#000" stroke-width="1.2"/>
<line x1="307.21" y1="400.75" x2="307.21" y2="404.55" stroke="#000" stroke-width="1.2"/>
<line x1="307.21" y1="600.75" x2="307.21" y2="596.95" stroke="#000" stroke-width="1.2"/>
<text transform="translate(307.21,615.90) scale(1,1.03)" font-family="Liberation Serif" font-weight="bold" font-size="13.6" text-anchor="middle" fill="#000" >70</text>
<path d="M316.5,0.9 H53.1 V600.75 H316.5" fill="none" stroke="#000" stroke-width="1.7"/>
<line x1="53.1" y1="200.75" x2="316.5" y2="200.75" stroke="#000" stroke-width="1.5"/>
<line x1="53.1" y1="400.75" x2="316.5" y2="400.75" stroke="#000" stroke-width="1.5"/>
<line x1="316.5" y1="0" x2="316.5" y2="601.6" stroke="#ff0000" stroke-width="1"/>
<line x1="313.3" y1="0.9" x2="316.5" y2="0.9" stroke="#ff0000" stroke-width="1.6"/>
<line x1="313.3" y1="600.75" x2="316.5" y2="600.75" stroke="#ff0000" stroke-width="1.6"/>
<text transform="translate(56.40,18.40) scale(1.12,0.97)" font-family="Liberation Serif" font-weight="bold" font-size="12.2" text-anchor="start" fill="#000" >(a)</text><text transform="translate(94.90,18.40) scale(1.0,1.0)" font-family="Liberation Serif" font-weight="bold" font-size="12.2" text-anchor="end" fill="#000" >Gd</text><text transform="translate(94.80,24.20) scale(0.85,1.0)" font-family="Liberation Serif" font-weight="bold" font-size="7.6" text-anchor="start" fill="#000" >2</text><text transform="translate(99.00,18.40) scale(1.02,1.0)" font-family="Liberation Serif" font-weight="bold" font-size="12.2" text-anchor="start" fill="#000" >NiTiO</text><text transform="translate(132.70,24.20) scale(0.85,1.0)" font-family="Liberation Serif" font-weight="bold" font-size="7.6" text-anchor="start" fill="#000" >6</text>
<text transform="translate(56.40,218.30) scale(1.12,0.97)" font-family="Liberation Serif" font-weight="bold" font-size="12.2" text-anchor="start" fill="#000" >(b)</text><text transform="translate(94.90,218.30) scale(1.0,1.0)" font-family="Liberation Serif" font-weight="bold" font-size="12.2" text-anchor="end" fill="#000" >Tb</text><text transform="translate(94.80,224.10) scale(0.85,1.0)" font-family="Liberation Serif" font-weight="bold" font-size="7.6" text-anchor="start" fill="#000" >2</text><text transform="translate(99.00,218.30) scale(1.02,1.0)" font-family="Liberation Serif" font-weight="bold" font-size="12.2" text-anchor="start" fill="#000" >NiTiO</text><text transform="translate(132.70,224.10) scale(0.85,1.0)" font-family="Liberation Serif" font-weight="bold" font-size="7.6" text-anchor="start" fill="#000" >6</text>
<text transform="translate(56.40,418.30) scale(1.12,0.97)" font-family="Liberation Serif" font-weight="bold" font-size="12.2" text-anchor="start" fill="#000" >(c)</text><text transform="translate(94.90,418.30) scale(1.0,1.0)" font-family="Liberation Serif" font-weight="bold" font-size="12.2" text-anchor="end" fill="#000" >Ho</text><text transform="translate(94.80,424.10) scale(0.85,1.0)" font-family="Liberation Serif" font-weight="bold" font-size="7.6" text-anchor="start" fill="#000" >2</text><text transform="translate(99.00,418.30) scale(1.02,1.0)" font-family="Liberation Serif" font-weight="bold" font-size="12.2" text-anchor="start" fill="#000" >NiTiO</text><text transform="translate(132.70,424.10) scale(0.85,1.0)" font-family="Liberation Serif" font-weight="bold" font-size="7.6" text-anchor="start" fill="#000" >6</text>
<text transform="translate(141.80,639.20) scale(1.1,1.0)" font-family="Liberation Serif" font-weight="bold" font-size="16" text-anchor="start" fill="#000" ><tspan font-style="italic">μ</tspan><tspan font-size="10" dy="7">0</tspan><tspan font-style="italic" dy="-7">H</tspan> (kOe)</text>
<text transform="translate(17.4,312) rotate(-90) scale(0.965,1)" font-family="Liberation Serif" font-weight="bold" font-size="18.5" text-anchor="middle"><tspan font-style="italic">M</tspan> (emu/g)</text>
<text transform="translate(363.6,314.5) rotate(-90) scale(0.97,1)" font-family="Liberation Serif" font-weight="bold" font-size="19" fill="#ff0000" text-anchor="middle"><tspan font-style="italic">M</tspan> (<tspan font-weight="normal">μ</tspan><tspan font-size="11" dy="7">B</tspan><tspan dy="-7">/f.u.)</tspan></text>
</svg>
</body></html>
